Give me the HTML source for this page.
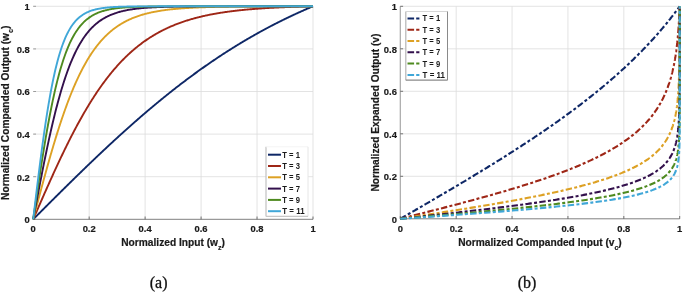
<!DOCTYPE html>
<html><head><meta charset="utf-8"><title>Companding curves</title>
<style>html,body{margin:0;padding:0;background:#fff;}body{width:685px;height:292px;overflow:hidden;}svg{display:block;}</style>
</head><body>
<svg width="685" height="292" viewBox="0 0 685 292">
<rect width="685" height="292" fill="#fff"/>
<line x1="89.16" y1="6.3" x2="89.16" y2="219.3" stroke="#dcdcdc" stroke-width="0.8"/>
<line x1="33.2" y1="176.7" x2="313" y2="176.7" stroke="#dcdcdc" stroke-width="0.8"/>
<line x1="145.12" y1="6.3" x2="145.12" y2="219.3" stroke="#dcdcdc" stroke-width="0.8"/>
<line x1="33.2" y1="134.1" x2="313" y2="134.1" stroke="#dcdcdc" stroke-width="0.8"/>
<line x1="201.08" y1="6.3" x2="201.08" y2="219.3" stroke="#dcdcdc" stroke-width="0.8"/>
<line x1="33.2" y1="91.5" x2="313" y2="91.5" stroke="#dcdcdc" stroke-width="0.8"/>
<line x1="257.04" y1="6.3" x2="257.04" y2="219.3" stroke="#dcdcdc" stroke-width="0.8"/>
<line x1="33.2" y1="48.9" x2="313" y2="48.9" stroke="#dcdcdc" stroke-width="0.8"/>
<line x1="313" y1="6.3" x2="313" y2="219.3" stroke="#dcdcdc" stroke-width="0.8"/>
<line x1="33.2" y1="6.3" x2="313" y2="6.3" stroke="#dcdcdc" stroke-width="0.8"/>
<line x1="33.2" y1="219.3" x2="313" y2="219.3" stroke="#808080" stroke-width="1"/>
<line x1="33.2" y1="219.3" x2="33.2" y2="216.5" stroke="#555" stroke-width="0.8"/>
<line x1="33.2" y1="219.3" x2="36" y2="219.3" stroke="#8a8a8a" stroke-width="0.8"/>
<line x1="89.16" y1="219.3" x2="89.16" y2="216.5" stroke="#555" stroke-width="0.8"/>
<line x1="33.2" y1="176.7" x2="36" y2="176.7" stroke="#8a8a8a" stroke-width="0.8"/>
<line x1="145.12" y1="219.3" x2="145.12" y2="216.5" stroke="#555" stroke-width="0.8"/>
<line x1="33.2" y1="134.1" x2="36" y2="134.1" stroke="#8a8a8a" stroke-width="0.8"/>
<line x1="201.08" y1="219.3" x2="201.08" y2="216.5" stroke="#555" stroke-width="0.8"/>
<line x1="33.2" y1="91.5" x2="36" y2="91.5" stroke="#8a8a8a" stroke-width="0.8"/>
<line x1="257.04" y1="219.3" x2="257.04" y2="216.5" stroke="#555" stroke-width="0.8"/>
<line x1="33.2" y1="48.9" x2="36" y2="48.9" stroke="#8a8a8a" stroke-width="0.8"/>
<line x1="313" y1="219.3" x2="313" y2="216.5" stroke="#555" stroke-width="0.8"/>
<line x1="33.2" y1="6.3" x2="36" y2="6.3" stroke="#8a8a8a" stroke-width="0.8"/>
<path d="M33.2 219.3 L33.9 218.6 L34.6 217.9 L35.3 217.2 L36 216.5 L36.7 215.8 L37.4 215.11 L38.1 214.41 L38.8 213.71 L39.5 213.01 L40.2 212.31 L40.89 211.61 L41.59 210.91 L42.29 210.21 L42.99 209.52 L43.69 208.82 L44.39 208.12 L45.09 207.42 L45.79 206.72 L46.49 206.03 L47.19 205.33 L47.89 204.63 L48.59 203.93 L49.29 203.24 L49.99 202.54 L50.69 201.84 L51.39 201.15 L52.09 200.45 L52.79 199.75 L53.49 199.06 L54.19 198.36 L54.88 197.67 L55.58 196.97 L56.28 196.28 L56.98 195.58 L57.68 194.89 L58.38 194.2 L59.08 193.5 L59.78 192.81 L60.48 192.12 L61.18 191.43 L61.88 190.73 L62.58 190.04 L63.28 189.35 L63.98 188.66 L64.68 187.97 L65.38 187.28 L66.08 186.59 L66.78 185.9 L67.48 185.21 L68.18 184.52 L68.87 183.83 L69.57 183.15 L70.27 182.46 L70.97 181.77 L71.67 181.09 L72.37 180.4 L73.07 179.71 L73.77 179.03 L74.47 178.34 L75.17 177.66 L75.87 176.98 L76.57 176.29 L77.27 175.61 L77.97 174.93 L78.67 174.25 L79.37 173.57 L80.07 172.89 L80.77 172.21 L81.47 171.53 L82.17 170.85 L82.86 170.17 L83.56 169.49 L84.26 168.82 L84.96 168.14 L85.66 167.47 L86.36 166.79 L87.06 166.12 L87.76 165.44 L88.46 164.77 L89.16 164.1 L89.86 163.43 L90.56 162.76 L91.26 162.09 L91.96 161.42 L92.66 160.75 L93.36 160.08 L94.06 159.41 L94.76 158.74 L95.46 158.08 L96.16 157.41 L96.85 156.75 L97.55 156.09 L98.25 155.42 L98.95 154.76 L99.65 154.1 L100.35 153.44 L101.05 152.78 L101.75 152.12 L102.45 151.46 L103.15 150.8 L103.85 150.15 L104.55 149.49 L105.25 148.83 L105.95 148.18 L106.65 147.53 L107.35 146.87 L108.05 146.22 L108.75 145.57 L109.45 144.92 L110.15 144.27 L110.84 143.62 L111.54 142.97 L112.24 142.33 L112.94 141.68 L113.64 141.04 L114.34 140.39 L115.04 139.75 L115.74 139.11 L116.44 138.47 L117.14 137.83 L117.84 137.19 L118.54 136.55 L119.24 135.91 L119.94 135.27 L120.64 134.64 L121.34 134 L122.04 133.37 L122.74 132.74 L123.44 132.11 L124.14 131.48 L124.83 130.85 L125.53 130.22 L126.23 129.59 L126.93 128.96 L127.63 128.34 L128.33 127.71 L129.03 127.09 L129.73 126.47 L130.43 125.84 L131.13 125.22 L131.83 124.6 L132.53 123.99 L133.23 123.37 L133.93 122.75 L134.63 122.14 L135.33 121.52 L136.03 120.91 L136.73 120.3 L137.43 119.69 L138.12 119.08 L138.82 118.47 L139.52 117.86 L140.22 117.25 L140.92 116.65 L141.62 116.04 L142.32 115.44 L143.02 114.84 L143.72 114.24 L144.42 113.64 L145.12 113.04 L145.82 112.44 L146.52 111.84 L147.22 111.25 L147.92 110.65 L148.62 110.06 L149.32 109.47 L150.02 108.88 L150.72 108.29 L151.42 107.7 L152.12 107.11 L152.81 106.53 L153.51 105.94 L154.21 105.36 L154.91 104.77 L155.61 104.19 L156.31 103.61 L157.01 103.03 L157.71 102.46 L158.41 101.88 L159.11 101.3 L159.81 100.73 L160.51 100.16 L161.21 99.59 L161.91 99.02 L162.61 98.45 L163.31 97.88 L164.01 97.31 L164.71 96.75 L165.41 96.18 L166.11 95.62 L166.8 95.06 L167.5 94.5 L168.2 93.94 L168.9 93.38 L169.6 92.82 L170.3 92.27 L171 91.71 L171.7 91.16 L172.4 90.61 L173.1 90.06 L173.8 89.51 L174.5 88.96 L175.2 88.41 L175.9 87.87 L176.6 87.32 L177.3 86.78 L178 86.24 L178.7 85.7 L179.4 85.16 L180.1 84.62 L180.79 84.09 L181.49 83.55 L182.19 83.02 L182.89 82.48 L183.59 81.95 L184.29 81.42 L184.99 80.89 L185.69 80.37 L186.39 79.84 L187.09 79.32 L187.79 78.79 L188.49 78.27 L189.19 77.75 L189.89 77.23 L190.59 76.71 L191.29 76.2 L191.99 75.68 L192.69 75.17 L193.39 74.65 L194.09 74.14 L194.78 73.63 L195.48 73.12 L196.18 72.62 L196.88 72.11 L197.58 71.6 L198.28 71.1 L198.98 70.6 L199.68 70.1 L200.38 69.6 L201.08 69.1 L201.78 68.6 L202.48 68.11 L203.18 67.61 L203.88 67.12 L204.58 66.63 L205.28 66.14 L205.98 65.65 L206.68 65.16 L207.38 64.68 L208.07 64.19 L208.77 63.71 L209.47 63.23 L210.17 62.75 L210.87 62.27 L211.57 61.79 L212.27 61.31 L212.97 60.84 L213.67 60.36 L214.37 59.89 L215.07 59.42 L215.77 58.95 L216.47 58.48 L217.17 58.01 L217.87 57.55 L218.57 57.08 L219.27 56.62 L219.97 56.16 L220.67 55.69 L221.37 55.24 L222.06 54.78 L222.76 54.32 L223.46 53.87 L224.16 53.41 L224.86 52.96 L225.56 52.51 L226.26 52.06 L226.96 51.61 L227.66 51.16 L228.36 50.72 L229.06 50.27 L229.76 49.83 L230.46 49.39 L231.16 48.95 L231.86 48.51 L232.56 48.07 L233.26 47.63 L233.96 47.2 L234.66 46.76 L235.36 46.33 L236.06 45.9 L236.75 45.47 L237.45 45.04 L238.15 44.62 L238.85 44.19 L239.55 43.77 L240.25 43.34 L240.95 42.92 L241.65 42.5 L242.35 42.08 L243.05 41.66 L243.75 41.25 L244.45 40.83 L245.15 40.42 L245.85 40.01 L246.55 39.59 L247.25 39.18 L247.95 38.78 L248.65 38.37 L249.35 37.96 L250.05 37.56 L250.74 37.16 L251.44 36.75 L252.14 36.35 L252.84 35.95 L253.54 35.56 L254.24 35.16 L254.94 34.76 L255.64 34.37 L256.34 33.98 L257.04 33.58 L257.74 33.19 L258.44 32.81 L259.14 32.42 L259.84 32.03 L260.54 31.65 L261.24 31.26 L261.94 30.88 L262.64 30.5 L263.34 30.12 L264.04 29.74 L264.73 29.36 L265.43 28.99 L266.13 28.61 L266.83 28.24 L267.53 27.87 L268.23 27.5 L268.93 27.13 L269.63 26.76 L270.33 26.39 L271.03 26.02 L271.73 25.66 L272.43 25.3 L273.13 24.93 L273.83 24.57 L274.53 24.21 L275.23 23.86 L275.93 23.5 L276.63 23.14 L277.33 22.79 L278.03 22.43 L278.72 22.08 L279.42 21.73 L280.12 21.38 L280.82 21.03 L281.52 20.69 L282.22 20.34 L282.92 20 L283.62 19.65 L284.32 19.31 L285.02 18.97 L285.72 18.63 L286.42 18.29 L287.12 17.95 L287.82 17.62 L288.52 17.28 L289.22 16.95 L289.92 16.61 L290.62 16.28 L291.32 15.95 L292.01 15.62 L292.71 15.3 L293.41 14.97 L294.11 14.64 L294.81 14.32 L295.51 14 L296.21 13.68 L296.91 13.35 L297.61 13.04 L298.31 12.72 L299.01 12.4 L299.71 12.08 L300.41 11.77 L301.11 11.46 L301.81 11.14 L302.51 10.83 L303.21 10.52 L303.91 10.21 L304.61 9.9 L305.31 9.6 L306 9.29 L306.7 8.99 L307.4 8.69 L308.1 8.38 L308.8 8.08 L309.5 7.78 L310.2 7.48 L310.9 7.19 L311.6 6.89 L312.3 6.59 L313 6.3" fill="none" stroke="#0e2766" stroke-width="1.9" stroke-linejoin="round"/>
<path d="M33.2 219.3 L33.9 217.69 L34.6 216.09 L35.3 214.48 L36 212.88 L36.7 211.28 L37.4 209.67 L38.1 208.07 L38.8 206.47 L39.5 204.87 L40.2 203.28 L40.89 201.68 L41.59 200.09 L42.29 198.5 L42.99 196.91 L43.69 195.32 L44.39 193.74 L45.09 192.15 L45.79 190.58 L46.49 189 L47.19 187.43 L47.89 185.86 L48.59 184.3 L49.29 182.74 L49.99 181.18 L50.69 179.63 L51.39 178.08 L52.09 176.54 L52.79 175 L53.49 173.46 L54.19 171.93 L54.88 170.41 L55.58 168.89 L56.28 167.38 L56.98 165.87 L57.68 164.37 L58.38 162.87 L59.08 161.38 L59.78 159.89 L60.48 158.41 L61.18 156.94 L61.88 155.48 L62.58 154.02 L63.28 152.56 L63.98 151.12 L64.68 149.68 L65.38 148.25 L66.08 146.82 L66.78 145.4 L67.48 143.99 L68.18 142.59 L68.87 141.2 L69.57 139.81 L70.27 138.43 L70.97 137.05 L71.67 135.69 L72.37 134.33 L73.07 132.99 L73.77 131.64 L74.47 130.31 L75.17 128.99 L75.87 127.67 L76.57 126.37 L77.27 125.07 L77.97 123.78 L78.67 122.5 L79.37 121.22 L80.07 119.96 L80.77 118.7 L81.47 117.46 L82.17 116.22 L82.86 114.99 L83.56 113.77 L84.26 112.56 L84.96 111.36 L85.66 110.17 L86.36 108.98 L87.06 107.81 L87.76 106.64 L88.46 105.49 L89.16 104.34 L89.86 103.2 L90.56 102.07 L91.26 100.95 L91.96 99.84 L92.66 98.74 L93.36 97.65 L94.06 96.57 L94.76 95.5 L95.46 94.43 L96.16 93.38 L96.85 92.33 L97.55 91.3 L98.25 90.27 L98.95 89.25 L99.65 88.24 L100.35 87.25 L101.05 86.26 L101.75 85.27 L102.45 84.3 L103.15 83.34 L103.85 82.39 L104.55 81.44 L105.25 80.51 L105.95 79.58 L106.65 78.67 L107.35 77.76 L108.05 76.86 L108.75 75.97 L109.45 75.09 L110.15 74.21 L110.84 73.35 L111.54 72.5 L112.24 71.65 L112.94 70.81 L113.64 69.98 L114.34 69.16 L115.04 68.35 L115.74 67.55 L116.44 66.76 L117.14 65.97 L117.84 65.19 L118.54 64.42 L119.24 63.66 L119.94 62.91 L120.64 62.17 L121.34 61.43 L122.04 60.7 L122.74 59.98 L123.44 59.27 L124.14 58.56 L124.83 57.87 L125.53 57.18 L126.23 56.5 L126.93 55.83 L127.63 55.16 L128.33 54.5 L129.03 53.85 L129.73 53.21 L130.43 52.58 L131.13 51.95 L131.83 51.33 L132.53 50.71 L133.23 50.11 L133.93 49.51 L134.63 48.92 L135.33 48.33 L136.03 47.75 L136.73 47.18 L137.43 46.62 L138.12 46.06 L138.82 45.51 L139.52 44.97 L140.22 44.43 L140.92 43.9 L141.62 43.38 L142.32 42.86 L143.02 42.35 L143.72 41.84 L144.42 41.34 L145.12 40.85 L145.82 40.36 L146.52 39.88 L147.22 39.41 L147.92 38.94 L148.62 38.48 L149.32 38.02 L150.02 37.57 L150.72 37.12 L151.42 36.68 L152.12 36.25 L152.81 35.82 L153.51 35.4 L154.21 34.98 L154.91 34.57 L155.61 34.16 L156.31 33.76 L157.01 33.36 L157.71 32.97 L158.41 32.58 L159.11 32.2 L159.81 31.82 L160.51 31.45 L161.21 31.09 L161.91 30.72 L162.61 30.37 L163.31 30.02 L164.01 29.67 L164.71 29.32 L165.41 28.99 L166.11 28.65 L166.8 28.32 L167.5 28 L168.2 27.68 L168.9 27.36 L169.6 27.05 L170.3 26.74 L171 26.43 L171.7 26.13 L172.4 25.84 L173.1 25.55 L173.8 25.26 L174.5 24.97 L175.2 24.69 L175.9 24.42 L176.6 24.14 L177.3 23.87 L178 23.61 L178.7 23.35 L179.4 23.09 L180.1 22.83 L180.79 22.58 L181.49 22.33 L182.19 22.09 L182.89 21.85 L183.59 21.61 L184.29 21.38 L184.99 21.14 L185.69 20.92 L186.39 20.69 L187.09 20.47 L187.79 20.25 L188.49 20.04 L189.19 19.82 L189.89 19.61 L190.59 19.41 L191.29 19.2 L191.99 19 L192.69 18.8 L193.39 18.61 L194.09 18.41 L194.78 18.22 L195.48 18.04 L196.18 17.85 L196.88 17.67 L197.58 17.49 L198.28 17.31 L198.98 17.14 L199.68 16.97 L200.38 16.8 L201.08 16.63 L201.78 16.46 L202.48 16.3 L203.18 16.14 L203.88 15.98 L204.58 15.83 L205.28 15.67 L205.98 15.52 L206.68 15.37 L207.38 15.22 L208.07 15.08 L208.77 14.94 L209.47 14.79 L210.17 14.66 L210.87 14.52 L211.57 14.38 L212.27 14.25 L212.97 14.12 L213.67 13.99 L214.37 13.86 L215.07 13.74 L215.77 13.61 L216.47 13.49 L217.17 13.37 L217.87 13.25 L218.57 13.13 L219.27 13.02 L219.97 12.9 L220.67 12.79 L221.37 12.68 L222.06 12.57 L222.76 12.47 L223.46 12.36 L224.16 12.26 L224.86 12.15 L225.56 12.05 L226.26 11.95 L226.96 11.85 L227.66 11.76 L228.36 11.66 L229.06 11.57 L229.76 11.47 L230.46 11.38 L231.16 11.29 L231.86 11.2 L232.56 11.12 L233.26 11.03 L233.96 10.94 L234.66 10.86 L235.36 10.78 L236.06 10.7 L236.75 10.62 L237.45 10.54 L238.15 10.46 L238.85 10.38 L239.55 10.31 L240.25 10.23 L240.95 10.16 L241.65 10.09 L242.35 10.02 L243.05 9.95 L243.75 9.88 L244.45 9.81 L245.15 9.74 L245.85 9.67 L246.55 9.61 L247.25 9.54 L247.95 9.48 L248.65 9.42 L249.35 9.36 L250.05 9.3 L250.74 9.24 L251.44 9.18 L252.14 9.12 L252.84 9.06 L253.54 9.01 L254.24 8.95 L254.94 8.9 L255.64 8.84 L256.34 8.79 L257.04 8.74 L257.74 8.68 L258.44 8.63 L259.14 8.58 L259.84 8.53 L260.54 8.49 L261.24 8.44 L261.94 8.39 L262.64 8.34 L263.34 8.3 L264.04 8.25 L264.73 8.21 L265.43 8.16 L266.13 8.12 L266.83 8.08 L267.53 8.04 L268.23 8 L268.93 7.95 L269.63 7.91 L270.33 7.87 L271.03 7.84 L271.73 7.8 L272.43 7.76 L273.13 7.72 L273.83 7.69 L274.53 7.65 L275.23 7.61 L275.93 7.58 L276.63 7.54 L277.33 7.51 L278.03 7.48 L278.72 7.44 L279.42 7.41 L280.12 7.38 L280.82 7.35 L281.52 7.32 L282.22 7.28 L282.92 7.25 L283.62 7.22 L284.32 7.2 L285.02 7.17 L285.72 7.14 L286.42 7.11 L287.12 7.08 L287.82 7.05 L288.52 7.03 L289.22 7 L289.92 6.98 L290.62 6.95 L291.32 6.92 L292.01 6.9 L292.71 6.87 L293.41 6.85 L294.11 6.83 L294.81 6.8 L295.51 6.78 L296.21 6.76 L296.91 6.73 L297.61 6.71 L298.31 6.69 L299.01 6.67 L299.71 6.65 L300.41 6.63 L301.11 6.61 L301.81 6.59 L302.51 6.57 L303.21 6.55 L303.91 6.53 L304.61 6.51 L305.31 6.49 L306 6.47 L306.7 6.45 L307.4 6.43 L308.1 6.42 L308.8 6.4 L309.5 6.38 L310.2 6.37 L310.9 6.35 L311.6 6.33 L312.3 6.32 L313 6.3" fill="none" stroke="#9e2616" stroke-width="1.9" stroke-linejoin="round"/>
<path d="M33.2 219.3 L33.9 216.64 L34.6 213.98 L35.3 211.32 L36 208.66 L36.7 206 L37.4 203.35 L38.1 200.71 L38.8 198.07 L39.5 195.44 L40.2 192.81 L40.89 190.19 L41.59 187.58 L42.29 184.99 L42.99 182.4 L43.69 179.82 L44.39 177.26 L45.09 174.7 L45.79 172.16 L46.49 169.64 L47.19 167.13 L47.89 164.63 L48.59 162.15 L49.29 159.69 L49.99 157.24 L50.69 154.82 L51.39 152.41 L52.09 150.02 L52.79 147.65 L53.49 145.29 L54.19 142.96 L54.88 140.65 L55.58 138.36 L56.28 136.1 L56.98 133.85 L57.68 131.63 L58.38 129.43 L59.08 127.25 L59.78 125.1 L60.48 122.97 L61.18 120.86 L61.88 118.78 L62.58 116.72 L63.28 114.69 L63.98 112.68 L64.68 110.7 L65.38 108.74 L66.08 106.81 L66.78 104.9 L67.48 103.02 L68.18 101.16 L68.87 99.33 L69.57 97.52 L70.27 95.74 L70.97 93.99 L71.67 92.26 L72.37 90.56 L73.07 88.88 L73.77 87.23 L74.47 85.6 L75.17 84 L75.87 82.43 L76.57 80.87 L77.27 79.35 L77.97 77.85 L78.67 76.37 L79.37 74.92 L80.07 73.49 L80.77 72.09 L81.47 70.71 L82.17 69.35 L82.86 68.02 L83.56 66.71 L84.26 65.43 L84.96 64.17 L85.66 62.93 L86.36 61.71 L87.06 60.52 L87.76 59.35 L88.46 58.19 L89.16 57.07 L89.86 55.96 L90.56 54.87 L91.26 53.81 L91.96 52.76 L92.66 51.73 L93.36 50.73 L94.06 49.74 L94.76 48.78 L95.46 47.83 L96.16 46.9 L96.85 45.99 L97.55 45.1 L98.25 44.23 L98.95 43.37 L99.65 42.54 L100.35 41.72 L101.05 40.91 L101.75 40.12 L102.45 39.35 L103.15 38.6 L103.85 37.86 L104.55 37.14 L105.25 36.43 L105.95 35.74 L106.65 35.06 L107.35 34.39 L108.05 33.75 L108.75 33.11 L109.45 32.49 L110.15 31.88 L110.84 31.28 L111.54 30.7 L112.24 30.13 L112.94 29.58 L113.64 29.03 L114.34 28.5 L115.04 27.98 L115.74 27.47 L116.44 26.97 L117.14 26.49 L117.84 26.01 L118.54 25.55 L119.24 25.09 L119.94 24.65 L120.64 24.21 L121.34 23.79 L122.04 23.37 L122.74 22.97 L123.44 22.57 L124.14 22.18 L124.83 21.81 L125.53 21.44 L126.23 21.07 L126.93 20.72 L127.63 20.38 L128.33 20.04 L129.03 19.71 L129.73 19.39 L130.43 19.08 L131.13 18.77 L131.83 18.47 L132.53 18.18 L133.23 17.89 L133.93 17.61 L134.63 17.34 L135.33 17.07 L136.03 16.81 L136.73 16.56 L137.43 16.31 L138.12 16.07 L138.82 15.83 L139.52 15.6 L140.22 15.38 L140.92 15.16 L141.62 14.94 L142.32 14.73 L143.02 14.53 L143.72 14.33 L144.42 14.13 L145.12 13.94 L145.82 13.76 L146.52 13.58 L147.22 13.4 L147.92 13.23 L148.62 13.06 L149.32 12.89 L150.02 12.73 L150.72 12.57 L151.42 12.42 L152.12 12.27 L152.81 12.13 L153.51 11.98 L154.21 11.85 L154.91 11.71 L155.61 11.58 L156.31 11.45 L157.01 11.32 L157.71 11.2 L158.41 11.08 L159.11 10.96 L159.81 10.85 L160.51 10.74 L161.21 10.63 L161.91 10.52 L162.61 10.42 L163.31 10.32 L164.01 10.22 L164.71 10.12 L165.41 10.03 L166.11 9.93 L166.8 9.85 L167.5 9.76 L168.2 9.67 L168.9 9.59 L169.6 9.51 L170.3 9.43 L171 9.35 L171.7 9.28 L172.4 9.2 L173.1 9.13 L173.8 9.06 L174.5 8.99 L175.2 8.93 L175.9 8.86 L176.6 8.8 L177.3 8.74 L178 8.68 L178.7 8.62 L179.4 8.56 L180.1 8.5 L180.79 8.45 L181.49 8.4 L182.19 8.34 L182.89 8.29 L183.59 8.24 L184.29 8.2 L184.99 8.15 L185.69 8.1 L186.39 8.06 L187.09 8.01 L187.79 7.97 L188.49 7.93 L189.19 7.89 L189.89 7.85 L190.59 7.81 L191.29 7.77 L191.99 7.74 L192.69 7.7 L193.39 7.67 L194.09 7.63 L194.78 7.6 L195.48 7.57 L196.18 7.53 L196.88 7.5 L197.58 7.47 L198.28 7.44 L198.98 7.42 L199.68 7.39 L200.38 7.36 L201.08 7.33 L201.78 7.31 L202.48 7.28 L203.18 7.26 L203.88 7.23 L204.58 7.21 L205.28 7.19 L205.98 7.17 L206.68 7.14 L207.38 7.12 L208.07 7.1 L208.77 7.08 L209.47 7.06 L210.17 7.04 L210.87 7.02 L211.57 7.01 L212.27 6.99 L212.97 6.97 L213.67 6.95 L214.37 6.94 L215.07 6.92 L215.77 6.9 L216.47 6.89 L217.17 6.87 L217.87 6.86 L218.57 6.85 L219.27 6.83 L219.97 6.82 L220.67 6.8 L221.37 6.79 L222.06 6.78 L222.76 6.77 L223.46 6.75 L224.16 6.74 L224.86 6.73 L225.56 6.72 L226.26 6.71 L226.96 6.7 L227.66 6.69 L228.36 6.68 L229.06 6.67 L229.76 6.66 L230.46 6.65 L231.16 6.64 L231.86 6.63 L232.56 6.62 L233.26 6.61 L233.96 6.61 L234.66 6.6 L235.36 6.59 L236.06 6.58 L236.75 6.58 L237.45 6.57 L238.15 6.56 L238.85 6.55 L239.55 6.55 L240.25 6.54 L240.95 6.53 L241.65 6.53 L242.35 6.52 L243.05 6.52 L243.75 6.51 L244.45 6.5 L245.15 6.5 L245.85 6.49 L246.55 6.49 L247.25 6.48 L247.95 6.48 L248.65 6.47 L249.35 6.47 L250.05 6.46 L250.74 6.46 L251.44 6.46 L252.14 6.45 L252.84 6.45 L253.54 6.44 L254.24 6.44 L254.94 6.43 L255.64 6.43 L256.34 6.43 L257.04 6.42 L257.74 6.42 L258.44 6.42 L259.14 6.41 L259.84 6.41 L260.54 6.41 L261.24 6.4 L261.94 6.4 L262.64 6.4 L263.34 6.39 L264.04 6.39 L264.73 6.39 L265.43 6.39 L266.13 6.38 L266.83 6.38 L267.53 6.38 L268.23 6.38 L268.93 6.37 L269.63 6.37 L270.33 6.37 L271.03 6.37 L271.73 6.37 L272.43 6.36 L273.13 6.36 L273.83 6.36 L274.53 6.36 L275.23 6.36 L275.93 6.35 L276.63 6.35 L277.33 6.35 L278.03 6.35 L278.72 6.35 L279.42 6.34 L280.12 6.34 L280.82 6.34 L281.52 6.34 L282.22 6.34 L282.92 6.34 L283.62 6.34 L284.32 6.33 L285.02 6.33 L285.72 6.33 L286.42 6.33 L287.12 6.33 L287.82 6.33 L288.52 6.33 L289.22 6.33 L289.92 6.32 L290.62 6.32 L291.32 6.32 L292.01 6.32 L292.71 6.32 L293.41 6.32 L294.11 6.32 L294.81 6.32 L295.51 6.32 L296.21 6.32 L296.91 6.32 L297.61 6.31 L298.31 6.31 L299.01 6.31 L299.71 6.31 L300.41 6.31 L301.11 6.31 L301.81 6.31 L302.51 6.31 L303.21 6.31 L303.91 6.31 L304.61 6.31 L305.31 6.31 L306 6.31 L306.7 6.3 L307.4 6.3 L308.1 6.3 L308.8 6.3 L309.5 6.3 L310.2 6.3 L310.9 6.3 L311.6 6.3 L312.3 6.3 L313 6.3" fill="none" stroke="#dda124" stroke-width="1.9" stroke-linejoin="round"/>
<path d="M33.2 219.3 L33.9 215.57 L34.6 211.85 L35.3 208.13 L36 204.41 L36.7 200.71 L37.4 197.02 L38.1 193.34 L38.8 189.67 L39.5 186.03 L40.2 182.4 L40.89 178.8 L41.59 175.22 L42.29 171.66 L42.99 168.13 L43.69 164.64 L44.39 161.17 L45.09 157.74 L45.79 154.34 L46.49 150.98 L47.19 147.65 L47.89 144.37 L48.59 141.12 L49.29 137.92 L49.99 134.75 L50.69 131.64 L51.39 128.56 L52.09 125.53 L52.79 122.55 L53.49 119.62 L54.19 116.73 L54.88 113.89 L55.58 111.1 L56.28 108.36 L56.98 105.67 L57.68 103.03 L58.38 100.43 L59.08 97.89 L59.78 95.4 L60.48 92.96 L61.18 90.57 L61.88 88.23 L62.58 85.94 L63.28 83.7 L63.98 81.5 L64.68 79.36 L65.38 77.27 L66.08 75.22 L66.78 73.22 L67.48 71.27 L68.18 69.37 L68.87 67.51 L69.57 65.7 L70.27 63.93 L70.97 62.21 L71.67 60.53 L72.37 58.9 L73.07 57.3 L73.77 55.75 L74.47 54.24 L75.17 52.77 L75.87 51.35 L76.57 49.95 L77.27 48.6 L77.97 47.29 L78.67 46.01 L79.37 44.77 L80.07 43.56 L80.77 42.39 L81.47 41.25 L82.17 40.14 L82.86 39.07 L83.56 38.02 L84.26 37.01 L84.96 36.03 L85.66 35.07 L86.36 34.15 L87.06 33.25 L87.76 32.38 L88.46 31.54 L89.16 30.72 L89.86 29.93 L90.56 29.16 L91.26 28.41 L91.96 27.69 L92.66 26.99 L93.36 26.31 L94.06 25.65 L94.76 25.02 L95.46 24.4 L96.16 23.8 L96.85 23.23 L97.55 22.67 L98.25 22.12 L98.95 21.6 L99.65 21.09 L100.35 20.6 L101.05 20.12 L101.75 19.66 L102.45 19.22 L103.15 18.79 L103.85 18.37 L104.55 17.97 L105.25 17.57 L105.95 17.2 L106.65 16.83 L107.35 16.48 L108.05 16.14 L108.75 15.81 L109.45 15.49 L110.15 15.18 L110.84 14.88 L111.54 14.59 L112.24 14.31 L112.94 14.04 L113.64 13.78 L114.34 13.52 L115.04 13.28 L115.74 13.04 L116.44 12.81 L117.14 12.59 L117.84 12.38 L118.54 12.17 L119.24 11.97 L119.94 11.78 L120.64 11.6 L121.34 11.42 L122.04 11.24 L122.74 11.07 L123.44 10.91 L124.14 10.75 L124.83 10.6 L125.53 10.46 L126.23 10.31 L126.93 10.18 L127.63 10.05 L128.33 9.92 L129.03 9.79 L129.73 9.67 L130.43 9.56 L131.13 9.45 L131.83 9.34 L132.53 9.24 L133.23 9.14 L133.93 9.04 L134.63 8.95 L135.33 8.86 L136.03 8.77 L136.73 8.68 L137.43 8.6 L138.12 8.52 L138.82 8.45 L139.52 8.37 L140.22 8.3 L140.92 8.23 L141.62 8.17 L142.32 8.1 L143.02 8.04 L143.72 7.98 L144.42 7.92 L145.12 7.87 L145.82 7.82 L146.52 7.76 L147.22 7.71 L147.92 7.66 L148.62 7.62 L149.32 7.57 L150.02 7.53 L150.72 7.49 L151.42 7.45 L152.12 7.41 L152.81 7.37 L153.51 7.33 L154.21 7.3 L154.91 7.26 L155.61 7.23 L156.31 7.2 L157.01 7.17 L157.71 7.14 L158.41 7.11 L159.11 7.08 L159.81 7.05 L160.51 7.03 L161.21 7 L161.91 6.98 L162.61 6.96 L163.31 6.93 L164.01 6.91 L164.71 6.89 L165.41 6.87 L166.11 6.85 L166.8 6.83 L167.5 6.81 L168.2 6.8 L168.9 6.78 L169.6 6.76 L170.3 6.75 L171 6.73 L171.7 6.72 L172.4 6.7 L173.1 6.69 L173.8 6.67 L174.5 6.66 L175.2 6.65 L175.9 6.64 L176.6 6.63 L177.3 6.61 L178 6.6 L178.7 6.59 L179.4 6.58 L180.1 6.57 L180.79 6.56 L181.49 6.55 L182.19 6.55 L182.89 6.54 L183.59 6.53 L184.29 6.52 L184.99 6.51 L185.69 6.51 L186.39 6.5 L187.09 6.49 L187.79 6.49 L188.49 6.48 L189.19 6.47 L189.89 6.47 L190.59 6.46 L191.29 6.46 L191.99 6.45 L192.69 6.45 L193.39 6.44 L194.09 6.44 L194.78 6.43 L195.48 6.43 L196.18 6.42 L196.88 6.42 L197.58 6.41 L198.28 6.41 L198.98 6.41 L199.68 6.4 L200.38 6.4 L201.08 6.4 L201.78 6.39 L202.48 6.39 L203.18 6.39 L203.88 6.38 L204.58 6.38 L205.28 6.38 L205.98 6.37 L206.68 6.37 L207.38 6.37 L208.07 6.37 L208.77 6.36 L209.47 6.36 L210.17 6.36 L210.87 6.36 L211.57 6.36 L212.27 6.35 L212.97 6.35 L213.67 6.35 L214.37 6.35 L215.07 6.35 L215.77 6.35 L216.47 6.34 L217.17 6.34 L217.87 6.34 L218.57 6.34 L219.27 6.34 L219.97 6.34 L220.67 6.34 L221.37 6.33 L222.06 6.33 L222.76 6.33 L223.46 6.33 L224.16 6.33 L224.86 6.33 L225.56 6.33 L226.26 6.33 L226.96 6.33 L227.66 6.32 L228.36 6.32 L229.06 6.32 L229.76 6.32 L230.46 6.32 L231.16 6.32 L231.86 6.32 L232.56 6.32 L233.26 6.32 L233.96 6.32 L234.66 6.32 L235.36 6.32 L236.06 6.32 L236.75 6.32 L237.45 6.32 L238.15 6.31 L238.85 6.31 L239.55 6.31 L240.25 6.31 L240.95 6.31 L241.65 6.31 L242.35 6.31 L243.05 6.31 L243.75 6.31 L244.45 6.31 L245.15 6.31 L245.85 6.31 L246.55 6.31 L247.25 6.31 L247.95 6.31 L248.65 6.31 L249.35 6.31 L250.05 6.31 L250.74 6.31 L251.44 6.31 L252.14 6.31 L252.84 6.31 L253.54 6.31 L254.24 6.31 L254.94 6.31 L255.64 6.31 L256.34 6.31 L257.04 6.31 L257.74 6.31 L258.44 6.31 L259.14 6.3 L259.84 6.3 L260.54 6.3 L261.24 6.3 L261.94 6.3 L262.64 6.3 L263.34 6.3 L264.04 6.3 L264.73 6.3 L265.43 6.3 L266.13 6.3 L266.83 6.3 L267.53 6.3 L268.23 6.3 L268.93 6.3 L269.63 6.3 L270.33 6.3 L271.03 6.3 L271.73 6.3 L272.43 6.3 L273.13 6.3 L273.83 6.3 L274.53 6.3 L275.23 6.3 L275.93 6.3 L276.63 6.3 L277.33 6.3 L278.03 6.3 L278.72 6.3 L279.42 6.3 L280.12 6.3 L280.82 6.3 L281.52 6.3 L282.22 6.3 L282.92 6.3 L283.62 6.3 L284.32 6.3 L285.02 6.3 L285.72 6.3 L286.42 6.3 L287.12 6.3 L287.82 6.3 L288.52 6.3 L289.22 6.3 L289.92 6.3 L290.62 6.3 L291.32 6.3 L292.01 6.3 L292.71 6.3 L293.41 6.3 L294.11 6.3 L294.81 6.3 L295.51 6.3 L296.21 6.3 L296.91 6.3 L297.61 6.3 L298.31 6.3 L299.01 6.3 L299.71 6.3 L300.41 6.3 L301.11 6.3 L301.81 6.3 L302.51 6.3 L303.21 6.3 L303.91 6.3 L304.61 6.3 L305.31 6.3 L306 6.3 L306.7 6.3 L307.4 6.3 L308.1 6.3 L308.8 6.3 L309.5 6.3 L310.2 6.3 L310.9 6.3 L311.6 6.3 L312.3 6.3 L313 6.3" fill="none" stroke="#33104c" stroke-width="1.9" stroke-linejoin="round"/>
<path d="M33.2 219.3 L33.9 214.51 L34.6 209.72 L35.3 204.94 L36 200.18 L36.7 195.44 L37.4 190.72 L38.1 186.03 L38.8 181.37 L39.5 176.75 L40.2 172.17 L40.89 167.63 L41.59 163.15 L42.29 158.72 L42.99 154.34 L43.69 150.02 L44.39 145.77 L45.09 141.58 L45.79 137.46 L46.49 133.41 L47.19 129.44 L47.89 125.53 L48.59 121.71 L49.29 117.96 L49.99 114.29 L50.69 110.71 L51.39 107.2 L52.09 103.78 L52.79 100.43 L53.49 97.18 L54.19 94 L54.88 90.91 L55.58 87.9 L56.28 84.97 L56.98 82.13 L57.68 79.36 L58.38 76.68 L59.08 74.07 L59.78 71.55 L60.48 69.1 L61.18 66.73 L61.88 64.43 L62.58 62.21 L63.28 60.06 L63.98 57.98 L64.68 55.97 L65.38 54.03 L66.08 52.16 L66.78 50.35 L67.48 48.6 L68.18 46.92 L68.87 45.3 L69.57 43.73 L70.27 42.22 L70.97 40.77 L71.67 39.37 L72.37 38.02 L73.07 36.73 L73.77 35.48 L74.47 34.28 L75.17 33.13 L75.87 32.02 L76.57 30.95 L77.27 29.93 L77.97 28.94 L78.67 28 L79.37 27.09 L80.07 26.22 L80.77 25.38 L81.47 24.58 L82.17 23.8 L82.86 23.06 L83.56 22.36 L84.26 21.67 L84.96 21.02 L85.66 20.39 L86.36 19.79 L87.06 19.22 L87.76 18.67 L88.46 18.14 L89.16 17.63 L89.86 17.14 L90.56 16.68 L91.26 16.23 L91.96 15.81 L92.66 15.4 L93.36 15 L94.06 14.63 L94.76 14.27 L95.46 13.92 L96.16 13.59 L96.85 13.28 L97.55 12.98 L98.25 12.69 L98.95 12.41 L99.65 12.15 L100.35 11.89 L101.05 11.65 L101.75 11.42 L102.45 11.19 L103.15 10.98 L103.85 10.78 L104.55 10.58 L105.25 10.4 L105.95 10.22 L106.65 10.05 L107.35 9.88 L108.05 9.73 L108.75 9.58 L109.45 9.43 L110.15 9.3 L110.84 9.17 L111.54 9.04 L112.24 8.92 L112.94 8.81 L113.64 8.7 L114.34 8.59 L115.04 8.49 L115.74 8.39 L116.44 8.3 L117.14 8.22 L117.84 8.13 L118.54 8.05 L119.24 7.97 L119.94 7.9 L120.64 7.83 L121.34 7.76 L122.04 7.7 L122.74 7.64 L123.44 7.58 L124.14 7.52 L124.83 7.47 L125.53 7.42 L126.23 7.37 L126.93 7.32 L127.63 7.28 L128.33 7.23 L129.03 7.19 L129.73 7.15 L130.43 7.12 L131.13 7.08 L131.83 7.05 L132.53 7.01 L133.23 6.98 L133.93 6.95 L134.63 6.92 L135.33 6.9 L136.03 6.87 L136.73 6.85 L137.43 6.82 L138.12 6.8 L138.82 6.78 L139.52 6.76 L140.22 6.74 L140.92 6.72 L141.62 6.7 L142.32 6.68 L143.02 6.66 L143.72 6.65 L144.42 6.63 L145.12 6.62 L145.82 6.6 L146.52 6.59 L147.22 6.58 L147.92 6.57 L148.62 6.55 L149.32 6.54 L150.02 6.53 L150.72 6.52 L151.42 6.51 L152.12 6.5 L152.81 6.49 L153.51 6.49 L154.21 6.48 L154.91 6.47 L155.61 6.46 L156.31 6.45 L157.01 6.45 L157.71 6.44 L158.41 6.44 L159.11 6.43 L159.81 6.42 L160.51 6.42 L161.21 6.41 L161.91 6.41 L162.61 6.4 L163.31 6.4 L164.01 6.39 L164.71 6.39 L165.41 6.39 L166.11 6.38 L166.8 6.38 L167.5 6.38 L168.2 6.37 L168.9 6.37 L169.6 6.37 L170.3 6.36 L171 6.36 L171.7 6.36 L172.4 6.35 L173.1 6.35 L173.8 6.35 L174.5 6.35 L175.2 6.35 L175.9 6.34 L176.6 6.34 L177.3 6.34 L178 6.34 L178.7 6.34 L179.4 6.34 L180.1 6.33 L180.79 6.33 L181.49 6.33 L182.19 6.33 L182.89 6.33 L183.59 6.33 L184.29 6.33 L184.99 6.32 L185.69 6.32 L186.39 6.32 L187.09 6.32 L187.79 6.32 L188.49 6.32 L189.19 6.32 L189.89 6.32 L190.59 6.32 L191.29 6.32 L191.99 6.32 L192.69 6.31 L193.39 6.31 L194.09 6.31 L194.78 6.31 L195.48 6.31 L196.18 6.31 L196.88 6.31 L197.58 6.31 L198.28 6.31 L198.98 6.31 L199.68 6.31 L200.38 6.31 L201.08 6.31 L201.78 6.31 L202.48 6.31 L203.18 6.31 L203.88 6.31 L204.58 6.31 L205.28 6.31 L205.98 6.31 L206.68 6.31 L207.38 6.31 L208.07 6.31 L208.77 6.31 L209.47 6.31 L210.17 6.3 L210.87 6.3 L211.57 6.3 L212.27 6.3 L212.97 6.3 L213.67 6.3 L214.37 6.3 L215.07 6.3 L215.77 6.3 L216.47 6.3 L217.17 6.3 L217.87 6.3 L218.57 6.3 L219.27 6.3 L219.97 6.3 L220.67 6.3 L221.37 6.3 L222.06 6.3 L222.76 6.3 L223.46 6.3 L224.16 6.3 L224.86 6.3 L225.56 6.3 L226.26 6.3 L226.96 6.3 L227.66 6.3 L228.36 6.3 L229.06 6.3 L229.76 6.3 L230.46 6.3 L231.16 6.3 L231.86 6.3 L232.56 6.3 L233.26 6.3 L233.96 6.3 L234.66 6.3 L235.36 6.3 L236.06 6.3 L236.75 6.3 L237.45 6.3 L238.15 6.3 L238.85 6.3 L239.55 6.3 L240.25 6.3 L240.95 6.3 L241.65 6.3 L242.35 6.3 L243.05 6.3 L243.75 6.3 L244.45 6.3 L245.15 6.3 L245.85 6.3 L246.55 6.3 L247.25 6.3 L247.95 6.3 L248.65 6.3 L249.35 6.3 L250.05 6.3 L250.74 6.3 L251.44 6.3 L252.14 6.3 L252.84 6.3 L253.54 6.3 L254.24 6.3 L254.94 6.3 L255.64 6.3 L256.34 6.3 L257.04 6.3 L257.74 6.3 L258.44 6.3 L259.14 6.3 L259.84 6.3 L260.54 6.3 L261.24 6.3 L261.94 6.3 L262.64 6.3 L263.34 6.3 L264.04 6.3 L264.73 6.3 L265.43 6.3 L266.13 6.3 L266.83 6.3 L267.53 6.3 L268.23 6.3 L268.93 6.3 L269.63 6.3 L270.33 6.3 L271.03 6.3 L271.73 6.3 L272.43 6.3 L273.13 6.3 L273.83 6.3 L274.53 6.3 L275.23 6.3 L275.93 6.3 L276.63 6.3 L277.33 6.3 L278.03 6.3 L278.72 6.3 L279.42 6.3 L280.12 6.3 L280.82 6.3 L281.52 6.3 L282.22 6.3 L282.92 6.3 L283.62 6.3 L284.32 6.3 L285.02 6.3 L285.72 6.3 L286.42 6.3 L287.12 6.3 L287.82 6.3 L288.52 6.3 L289.22 6.3 L289.92 6.3 L290.62 6.3 L291.32 6.3 L292.01 6.3 L292.71 6.3 L293.41 6.3 L294.11 6.3 L294.81 6.3 L295.51 6.3 L296.21 6.3 L296.91 6.3 L297.61 6.3 L298.31 6.3 L299.01 6.3 L299.71 6.3 L300.41 6.3 L301.11 6.3 L301.81 6.3 L302.51 6.3 L303.21 6.3 L303.91 6.3 L304.61 6.3 L305.31 6.3 L306 6.3 L306.7 6.3 L307.4 6.3 L308.1 6.3 L308.8 6.3 L309.5 6.3 L310.2 6.3 L310.9 6.3 L311.6 6.3 L312.3 6.3 L313 6.3" fill="none" stroke="#4e8a1f" stroke-width="1.9" stroke-linejoin="round"/>
<path d="M33.2 219.3 L33.9 213.44 L34.6 207.6 L35.3 201.77 L36 195.96 L36.7 190.2 L37.4 184.47 L38.1 178.8 L38.8 173.18 L39.5 167.63 L40.2 162.16 L40.89 156.76 L41.59 151.46 L42.29 146.24 L42.99 141.12 L43.69 136.1 L44.39 131.19 L45.09 126.39 L45.79 121.71 L46.49 117.14 L47.19 112.69 L47.89 108.36 L48.59 104.15 L49.29 100.07 L49.99 96.11 L50.69 92.27 L51.39 88.56 L52.09 84.97 L52.79 81.5 L53.49 78.16 L54.19 74.93 L54.88 71.82 L55.58 68.83 L56.28 65.95 L56.98 63.19 L57.68 60.53 L58.38 57.98 L59.08 55.54 L59.78 53.19 L60.48 50.94 L61.18 48.79 L61.88 46.74 L62.58 44.77 L63.28 42.89 L63.98 41.09 L64.68 39.37 L65.38 37.73 L66.08 36.17 L66.78 34.68 L67.48 33.25 L68.18 31.9 L68.87 30.61 L69.57 29.38 L70.27 28.2 L70.97 27.09 L71.67 26.03 L72.37 25.02 L73.07 24.06 L73.77 23.15 L74.47 22.28 L75.17 21.45 L75.87 20.67 L76.57 19.93 L77.27 19.22 L77.97 18.55 L78.67 17.91 L79.37 17.3 L80.07 16.73 L80.77 16.18 L81.47 15.67 L82.17 15.18 L82.86 14.71 L83.56 14.27 L84.26 13.85 L84.96 13.45 L85.66 13.08 L86.36 12.72 L87.06 12.38 L87.76 12.06 L88.46 11.76 L89.16 11.47 L89.86 11.19 L90.56 10.93 L91.26 10.69 L91.96 10.46 L92.66 10.24 L93.36 10.03 L94.06 9.83 L94.76 9.64 L95.46 9.46 L96.16 9.3 L96.85 9.14 L97.55 8.99 L98.25 8.84 L98.95 8.71 L99.65 8.58 L100.35 8.46 L101.05 8.34 L101.75 8.23 L102.45 8.13 L103.15 8.03 L103.85 7.94 L104.55 7.85 L105.25 7.77 L105.95 7.69 L106.65 7.62 L107.35 7.55 L108.05 7.48 L108.75 7.42 L109.45 7.36 L110.15 7.3 L110.84 7.25 L111.54 7.2 L112.24 7.15 L112.94 7.1 L113.64 7.06 L114.34 7.02 L115.04 6.98 L115.74 6.95 L116.44 6.91 L117.14 6.88 L117.84 6.85 L118.54 6.82 L119.24 6.79 L119.94 6.76 L120.64 6.74 L121.34 6.72 L122.04 6.69 L122.74 6.67 L123.44 6.65 L124.14 6.63 L124.83 6.62 L125.53 6.6 L126.23 6.58 L126.93 6.57 L127.63 6.55 L128.33 6.54 L129.03 6.53 L129.73 6.52 L130.43 6.5 L131.13 6.49 L131.83 6.48 L132.53 6.47 L133.23 6.46 L133.93 6.45 L134.63 6.45 L135.33 6.44 L136.03 6.43 L136.73 6.42 L137.43 6.42 L138.12 6.41 L138.82 6.41 L139.52 6.4 L140.22 6.39 L140.92 6.39 L141.62 6.38 L142.32 6.38 L143.02 6.38 L143.72 6.37 L144.42 6.37 L145.12 6.36 L145.82 6.36 L146.52 6.36 L147.22 6.35 L147.92 6.35 L148.62 6.35 L149.32 6.35 L150.02 6.34 L150.72 6.34 L151.42 6.34 L152.12 6.34 L152.81 6.34 L153.51 6.33 L154.21 6.33 L154.91 6.33 L155.61 6.33 L156.31 6.33 L157.01 6.33 L157.71 6.32 L158.41 6.32 L159.11 6.32 L159.81 6.32 L160.51 6.32 L161.21 6.32 L161.91 6.32 L162.61 6.32 L163.31 6.32 L164.01 6.31 L164.71 6.31 L165.41 6.31 L166.11 6.31 L166.8 6.31 L167.5 6.31 L168.2 6.31 L168.9 6.31 L169.6 6.31 L170.3 6.31 L171 6.31 L171.7 6.31 L172.4 6.31 L173.1 6.31 L173.8 6.31 L174.5 6.31 L175.2 6.31 L175.9 6.31 L176.6 6.31 L177.3 6.31 L178 6.3 L178.7 6.3 L179.4 6.3 L180.1 6.3 L180.79 6.3 L181.49 6.3 L182.19 6.3 L182.89 6.3 L183.59 6.3 L184.29 6.3 L184.99 6.3 L185.69 6.3 L186.39 6.3 L187.09 6.3 L187.79 6.3 L188.49 6.3 L189.19 6.3 L189.89 6.3 L190.59 6.3 L191.29 6.3 L191.99 6.3 L192.69 6.3 L193.39 6.3 L194.09 6.3 L194.78 6.3 L195.48 6.3 L196.18 6.3 L196.88 6.3 L197.58 6.3 L198.28 6.3 L198.98 6.3 L199.68 6.3 L200.38 6.3 L201.08 6.3 L201.78 6.3 L202.48 6.3 L203.18 6.3 L203.88 6.3 L204.58 6.3 L205.28 6.3 L205.98 6.3 L206.68 6.3 L207.38 6.3 L208.07 6.3 L208.77 6.3 L209.47 6.3 L210.17 6.3 L210.87 6.3 L211.57 6.3 L212.27 6.3 L212.97 6.3 L213.67 6.3 L214.37 6.3 L215.07 6.3 L215.77 6.3 L216.47 6.3 L217.17 6.3 L217.87 6.3 L218.57 6.3 L219.27 6.3 L219.97 6.3 L220.67 6.3 L221.37 6.3 L222.06 6.3 L222.76 6.3 L223.46 6.3 L224.16 6.3 L224.86 6.3 L225.56 6.3 L226.26 6.3 L226.96 6.3 L227.66 6.3 L228.36 6.3 L229.06 6.3 L229.76 6.3 L230.46 6.3 L231.16 6.3 L231.86 6.3 L232.56 6.3 L233.26 6.3 L233.96 6.3 L234.66 6.3 L235.36 6.3 L236.06 6.3 L236.75 6.3 L237.45 6.3 L238.15 6.3 L238.85 6.3 L239.55 6.3 L240.25 6.3 L240.95 6.3 L241.65 6.3 L242.35 6.3 L243.05 6.3 L243.75 6.3 L244.45 6.3 L245.15 6.3 L245.85 6.3 L246.55 6.3 L247.25 6.3 L247.95 6.3 L248.65 6.3 L249.35 6.3 L250.05 6.3 L250.74 6.3 L251.44 6.3 L252.14 6.3 L252.84 6.3 L253.54 6.3 L254.24 6.3 L254.94 6.3 L255.64 6.3 L256.34 6.3 L257.04 6.3 L257.74 6.3 L258.44 6.3 L259.14 6.3 L259.84 6.3 L260.54 6.3 L261.24 6.3 L261.94 6.3 L262.64 6.3 L263.34 6.3 L264.04 6.3 L264.73 6.3 L265.43 6.3 L266.13 6.3 L266.83 6.3 L267.53 6.3 L268.23 6.3 L268.93 6.3 L269.63 6.3 L270.33 6.3 L271.03 6.3 L271.73 6.3 L272.43 6.3 L273.13 6.3 L273.83 6.3 L274.53 6.3 L275.23 6.3 L275.93 6.3 L276.63 6.3 L277.33 6.3 L278.03 6.3 L278.72 6.3 L279.42 6.3 L280.12 6.3 L280.82 6.3 L281.52 6.3 L282.22 6.3 L282.92 6.3 L283.62 6.3 L284.32 6.3 L285.02 6.3 L285.72 6.3 L286.42 6.3 L287.12 6.3 L287.82 6.3 L288.52 6.3 L289.22 6.3 L289.92 6.3 L290.62 6.3 L291.32 6.3 L292.01 6.3 L292.71 6.3 L293.41 6.3 L294.11 6.3 L294.81 6.3 L295.51 6.3 L296.21 6.3 L296.91 6.3 L297.61 6.3 L298.31 6.3 L299.01 6.3 L299.71 6.3 L300.41 6.3 L301.11 6.3 L301.81 6.3 L302.51 6.3 L303.21 6.3 L303.91 6.3 L304.61 6.3 L305.31 6.3 L306 6.3 L306.7 6.3 L307.4 6.3 L308.1 6.3 L308.8 6.3 L309.5 6.3 L310.2 6.3 L310.9 6.3 L311.6 6.3 L312.3 6.3 L313 6.3" fill="none" stroke="#40a7d8" stroke-width="1.9" stroke-linejoin="round"/>
<line x1="456.18" y1="6.3" x2="456.18" y2="218.8" stroke="#dcdcdc" stroke-width="0.8"/>
<line x1="400.3" y1="176.3" x2="679.7" y2="176.3" stroke="#dcdcdc" stroke-width="0.8"/>
<line x1="512.06" y1="6.3" x2="512.06" y2="218.8" stroke="#dcdcdc" stroke-width="0.8"/>
<line x1="400.3" y1="133.8" x2="679.7" y2="133.8" stroke="#dcdcdc" stroke-width="0.8"/>
<line x1="567.94" y1="6.3" x2="567.94" y2="218.8" stroke="#dcdcdc" stroke-width="0.8"/>
<line x1="400.3" y1="91.3" x2="679.7" y2="91.3" stroke="#dcdcdc" stroke-width="0.8"/>
<line x1="623.82" y1="6.3" x2="623.82" y2="218.8" stroke="#dcdcdc" stroke-width="0.8"/>
<line x1="400.3" y1="48.8" x2="679.7" y2="48.8" stroke="#dcdcdc" stroke-width="0.8"/>
<line x1="679.7" y1="6.3" x2="679.7" y2="218.8" stroke="#dcdcdc" stroke-width="0.8"/>
<line x1="400.3" y1="6.3" x2="679.7" y2="6.3" stroke="#dcdcdc" stroke-width="0.8"/>
<line x1="400.3" y1="218.8" x2="679.7" y2="218.8" stroke="#808080" stroke-width="1"/>
<line x1="400.3" y1="218.8" x2="400.3" y2="6.3" stroke="#a8a8a8" stroke-width="1.2"/>
<line x1="400.3" y1="218.8" x2="400.3" y2="216" stroke="#555" stroke-width="0.8"/>
<line x1="400.3" y1="218.8" x2="403.1" y2="218.8" stroke="#555" stroke-width="0.8"/>
<line x1="456.18" y1="218.8" x2="456.18" y2="216" stroke="#555" stroke-width="0.8"/>
<line x1="400.3" y1="176.3" x2="403.1" y2="176.3" stroke="#555" stroke-width="0.8"/>
<line x1="512.06" y1="218.8" x2="512.06" y2="216" stroke="#555" stroke-width="0.8"/>
<line x1="400.3" y1="133.8" x2="403.1" y2="133.8" stroke="#555" stroke-width="0.8"/>
<line x1="567.94" y1="218.8" x2="567.94" y2="216" stroke="#555" stroke-width="0.8"/>
<line x1="400.3" y1="91.3" x2="403.1" y2="91.3" stroke="#555" stroke-width="0.8"/>
<line x1="623.82" y1="218.8" x2="623.82" y2="216" stroke="#555" stroke-width="0.8"/>
<line x1="400.3" y1="48.8" x2="403.1" y2="48.8" stroke="#555" stroke-width="0.8"/>
<line x1="679.7" y1="218.8" x2="679.7" y2="216" stroke="#555" stroke-width="0.8"/>
<line x1="400.3" y1="6.3" x2="403.1" y2="6.3" stroke="#555" stroke-width="0.8"/>
<path d="M400.3 218.8 L400.76 218.53 L401.22 218.27 L401.68 218 L402.13 217.74 L402.59 217.47 L403.05 217.21 L403.51 216.94 L403.97 216.68 L404.43 216.41 L404.89 216.14 L405.34 215.88 L405.8 215.61 L406.26 215.35 L406.72 215.08 L407.18 214.82 L407.64 214.55 L408.09 214.28 L408.55 214.02 L409.01 213.75 L409.47 213.49 L409.93 213.22 L410.39 212.96 L410.84 212.69 L411.3 212.43 L411.76 212.16 L412.22 211.89 L412.68 211.63 L413.13 211.36 L413.59 211.1 L414.05 210.83 L414.51 210.57 L414.97 210.3 L415.42 210.03 L415.88 209.77 L416.34 209.5 L416.8 209.24 L417.26 208.97 L417.71 208.71 L418.17 208.44 L418.63 208.18 L419.09 207.91 L419.54 207.64 L420 207.38 L420.46 207.11 L420.91 206.85 L421.37 206.58 L421.83 206.32 L422.29 206.05 L422.74 205.78 L423.2 205.52 L423.66 205.25 L424.11 204.99 L424.57 204.72 L425.03 204.46 L425.48 204.19 L425.94 203.93 L426.39 203.66 L426.85 203.39 L427.31 203.13 L427.76 202.86 L428.22 202.6 L428.68 202.33 L429.13 202.07 L429.59 201.8 L430.04 201.53 L430.5 201.27 L430.95 201 L431.41 200.74 L431.86 200.47 L432.32 200.21 L432.77 199.94 L433.23 199.68 L433.68 199.41 L434.14 199.14 L434.59 198.88 L435.05 198.61 L435.5 198.35 L435.96 198.08 L436.41 197.82 L436.86 197.55 L437.32 197.28 L437.77 197.02 L438.23 196.75 L438.68 196.49 L439.13 196.22 L439.59 195.96 L440.04 195.69 L440.49 195.43 L440.95 195.16 L441.4 194.89 L441.85 194.63 L442.3 194.36 L442.76 194.1 L443.21 193.83 L443.66 193.57 L444.11 193.3 L444.57 193.03 L445.02 192.77 L445.47 192.5 L445.92 192.24 L446.37 191.97 L446.82 191.71 L447.27 191.44 L447.73 191.18 L448.18 190.91 L448.63 190.64 L449.08 190.38 L449.53 190.11 L449.98 189.85 L450.43 189.58 L450.88 189.32 L451.33 189.05 L451.78 188.78 L452.23 188.52 L452.68 188.25 L453.13 187.99 L453.57 187.72 L454.02 187.46 L454.47 187.19 L454.92 186.93 L455.37 186.66 L455.82 186.39 L456.26 186.13 L456.71 185.86 L457.16 185.6 L457.61 185.33 L458.05 185.07 L458.5 184.8 L458.95 184.53 L459.4 184.27 L459.84 184 L460.29 183.74 L460.74 183.47 L461.18 183.21 L461.63 182.94 L462.07 182.68 L462.52 182.41 L462.96 182.14 L463.41 181.88 L463.85 181.61 L464.3 181.35 L464.74 181.08 L465.19 180.82 L465.63 180.55 L466.08 180.28 L466.52 180.02 L466.96 179.75 L467.41 179.49 L467.85 179.22 L468.29 178.96 L468.73 178.69 L469.18 178.43 L469.62 178.16 L470.06 177.89 L470.5 177.63 L470.94 177.36 L471.39 177.1 L471.83 176.83 L472.27 176.57 L472.71 176.3 L473.15 176.03 L473.59 175.77 L474.03 175.5 L474.47 175.24 L474.91 174.97 L475.35 174.71 L475.79 174.44 L476.23 174.18 L476.67 173.91 L477.11 173.64 L477.54 173.38 L477.98 173.11 L478.42 172.85 L478.86 172.58 L479.3 172.32 L479.73 172.05 L480.17 171.78 L480.61 171.52 L481.04 171.25 L481.48 170.99 L481.91 170.72 L482.35 170.46 L482.79 170.19 L483.22 169.93 L483.66 169.66 L484.09 169.39 L484.53 169.13 L484.96 168.86 L485.39 168.6 L485.83 168.33 L486.26 168.07 L486.69 167.8 L487.13 167.53 L487.56 167.27 L487.99 167 L488.42 166.74 L488.86 166.47 L489.29 166.21 L489.72 165.94 L490.15 165.68 L490.58 165.41 L491.01 165.14 L491.44 164.88 L491.87 164.61 L492.3 164.35 L492.73 164.08 L493.16 163.82 L493.59 163.55 L494.02 163.28 L494.45 163.02 L494.88 162.75 L495.3 162.49 L495.73 162.22 L496.16 161.96 L496.59 161.69 L497.01 161.43 L497.44 161.16 L497.87 160.89 L498.29 160.63 L498.72 160.36 L499.14 160.1 L499.57 159.83 L499.99 159.57 L500.42 159.3 L500.84 159.03 L501.27 158.77 L501.69 158.5 L502.11 158.24 L502.54 157.97 L502.96 157.71 L503.38 157.44 L503.8 157.18 L504.23 156.91 L504.65 156.64 L505.07 156.38 L505.49 156.11 L505.91 155.85 L506.33 155.58 L506.75 155.32 L507.17 155.05 L507.59 154.78 L508.01 154.52 L508.43 154.25 L508.85 153.99 L509.27 153.72 L509.68 153.46 L510.1 153.19 L510.52 152.93 L510.94 152.66 L511.35 152.39 L511.77 152.13 L512.19 151.86 L512.6 151.6 L513.02 151.33 L513.43 151.07 L513.85 150.8 L514.26 150.53 L514.68 150.27 L515.09 150 L515.5 149.74 L515.92 149.47 L516.33 149.21 L516.74 148.94 L517.15 148.68 L517.57 148.41 L517.98 148.14 L518.39 147.88 L518.8 147.61 L519.21 147.35 L519.62 147.08 L520.03 146.82 L520.44 146.55 L520.85 146.28 L521.26 146.02 L521.67 145.75 L522.07 145.49 L522.48 145.22 L522.89 144.96 L523.3 144.69 L523.7 144.43 L524.11 144.16 L524.52 143.89 L524.92 143.63 L525.33 143.36 L525.73 143.1 L526.14 142.83 L526.54 142.57 L526.95 142.3 L527.35 142.03 L527.75 141.77 L528.16 141.5 L528.56 141.24 L528.96 140.97 L529.36 140.71 L529.76 140.44 L530.17 140.18 L530.57 139.91 L530.97 139.64 L531.37 139.38 L531.77 139.11 L532.17 138.85 L532.57 138.58 L532.97 138.32 L533.36 138.05 L533.76 137.78 L534.16 137.52 L534.56 137.25 L534.95 136.99 L535.35 136.72 L535.75 136.46 L536.14 136.19 L536.54 135.93 L536.93 135.66 L537.33 135.39 L537.72 135.13 L538.12 134.86 L538.51 134.6 L538.9 134.33 L539.3 134.07 L539.69 133.8 L540.08 133.53 L540.47 133.27 L540.86 133 L541.26 132.74 L541.65 132.47 L542.04 132.21 L542.43 131.94 L542.82 131.68 L543.21 131.41 L543.59 131.14 L543.98 130.88 L544.37 130.61 L544.76 130.35 L545.15 130.08 L545.53 129.82 L545.92 129.55 L546.3 129.28 L546.69 129.02 L547.08 128.75 L547.46 128.49 L547.85 128.22 L548.23 127.96 L548.61 127.69 L549 127.43 L549.38 127.16 L549.76 126.89 L550.14 126.63 L550.53 126.36 L550.91 126.1 L551.29 125.83 L551.67 125.57 L552.05 125.3 L552.43 125.03 L552.81 124.77 L553.19 124.5 L553.57 124.24 L553.95 123.97 L554.32 123.71 L554.7 123.44 L555.08 123.18 L555.46 122.91 L555.83 122.64 L556.21 122.38 L556.58 122.11 L556.96 121.85 L557.33 121.58 L557.71 121.32 L558.08 121.05 L558.46 120.78 L558.83 120.52 L559.2 120.25 L559.57 119.99 L559.95 119.72 L560.32 119.46 L560.69 119.19 L561.06 118.93 L561.43 118.66 L561.8 118.39 L562.17 118.13 L562.54 117.86 L562.91 117.6 L563.27 117.33 L563.64 117.07 L564.01 116.8 L564.38 116.53 L564.74 116.27 L565.11 116 L565.48 115.74 L565.84 115.47 L566.21 115.21 L566.57 114.94 L566.93 114.68 L567.3 114.41 L567.66 114.14 L568.02 113.88 L568.39 113.61 L568.75 113.35 L569.11 113.08 L569.47 112.82 L569.83 112.55 L570.19 112.28 L570.55 112.02 L570.91 111.75 L571.27 111.49 L571.63 111.22 L571.99 110.96 L572.35 110.69 L572.71 110.43 L573.06 110.16 L573.42 109.89 L573.78 109.63 L574.13 109.36 L574.49 109.1 L574.84 108.83 L575.2 108.57 L575.55 108.3 L575.9 108.03 L576.26 107.77 L576.61 107.5 L576.96 107.24 L577.31 106.97 L577.67 106.71 L578.02 106.44 L578.37 106.18 L578.72 105.91 L579.07 105.64 L579.42 105.38 L579.77 105.11 L580.12 104.85 L580.46 104.58 L580.81 104.32 L581.16 104.05 L581.51 103.78 L581.85 103.52 L582.2 103.25 L582.54 102.99 L582.89 102.72 L583.23 102.46 L583.58 102.19 L583.92 101.92 L584.27 101.66 L584.61 101.39 L584.95 101.13 L585.29 100.86 L585.63 100.6 L585.98 100.33 L586.32 100.07 L586.66 99.8 L587 99.53 L587.34 99.27 L587.68 99 L588.02 98.74 L588.35 98.47 L588.69 98.21 L589.03 97.94 L589.37 97.67 L589.7 97.41 L590.04 97.14 L590.37 96.88 L590.71 96.61 L591.04 96.35 L591.38 96.08 L591.71 95.82 L592.05 95.55 L592.38 95.28 L592.71 95.02 L593.04 94.75 L593.38 94.49 L593.71 94.22 L594.04 93.96 L594.37 93.69 L594.7 93.43 L595.03 93.16 L595.36 92.89 L595.69 92.63 L596.01 92.36 L596.34 92.1 L596.67 91.83 L597 91.57 L597.32 91.3 L597.65 91.03 L597.97 90.77 L598.3 90.5 L598.62 90.24 L598.95 89.97 L599.27 89.71 L599.6 89.44 L599.92 89.18 L600.24 88.91 L600.56 88.64 L600.89 88.38 L601.21 88.11 L601.53 87.85 L601.85 87.58 L602.17 87.32 L602.49 87.05 L602.81 86.78 L603.13 86.52 L603.44 86.25 L603.76 85.99 L604.08 85.72 L604.4 85.46 L604.71 85.19 L605.03 84.93 L605.34 84.66 L605.66 84.39 L605.97 84.13 L606.29 83.86 L606.6 83.6 L606.91 83.33 L607.23 83.07 L607.54 82.8 L607.85 82.53 L608.16 82.27 L608.47 82 L608.79 81.74 L609.1 81.47 L609.41 81.21 L609.72 80.94 L610.02 80.68 L610.33 80.41 L610.64 80.14 L610.95 79.88 L611.26 79.61 L611.56 79.35 L611.87 79.08 L612.17 78.82 L612.48 78.55 L612.78 78.28 L613.09 78.02 L613.39 77.75 L613.7 77.49 L614 77.22 L614.3 76.96 L614.61 76.69 L614.91 76.43 L615.21 76.16 L615.51 75.89 L615.81 75.63 L616.11 75.36 L616.41 75.1 L616.71 74.83 L617.01 74.57 L617.31 74.3 L617.6 74.03 L617.9 73.77 L618.2 73.5 L618.49 73.24 L618.79 72.97 L619.09 72.71 L619.38 72.44 L619.68 72.18 L619.97 71.91 L620.27 71.64 L620.56 71.38 L620.85 71.11 L621.14 70.85 L621.44 70.58 L621.73 70.32 L622.02 70.05 L622.31 69.78 L622.6 69.52 L622.89 69.25 L623.18 68.99 L623.47 68.72 L623.76 68.46 L624.05 68.19 L624.33 67.93 L624.62 67.66 L624.91 67.39 L625.19 67.13 L625.48 66.86 L625.77 66.6 L626.05 66.33 L626.34 66.07 L626.62 65.8 L626.9 65.53 L627.19 65.27 L627.47 65 L627.75 64.74 L628.04 64.47 L628.32 64.21 L628.6 63.94 L628.88 63.68 L629.16 63.41 L629.44 63.14 L629.72 62.88 L630 62.61 L630.28 62.35 L630.55 62.08 L630.83 61.82 L631.11 61.55 L631.39 61.28 L631.66 61.02 L631.94 60.75 L632.21 60.49 L632.49 60.22 L632.76 59.96 L633.04 59.69 L633.31 59.43 L633.59 59.16 L633.86 58.89 L634.13 58.63 L634.4 58.36 L634.67 58.1 L634.95 57.83 L635.22 57.57 L635.49 57.3 L635.76 57.03 L636.03 56.77 L636.3 56.5 L636.56 56.24 L636.83 55.97 L637.1 55.71 L637.37 55.44 L637.63 55.18 L637.9 54.91 L638.17 54.64 L638.43 54.38 L638.7 54.11 L638.96 53.85 L639.23 53.58 L639.49 53.32 L639.75 53.05 L640.02 52.78 L640.28 52.52 L640.54 52.25 L640.8 51.99 L641.06 51.72 L641.32 51.46 L641.59 51.19 L641.85 50.93 L642.1 50.66 L642.36 50.39 L642.62 50.13 L642.88 49.86 L643.14 49.6 L643.4 49.33 L643.65 49.07 L643.91 48.8 L644.17 48.53 L644.42 48.27 L644.68 48 L644.93 47.74 L645.19 47.47 L645.44 47.21 L645.69 46.94 L645.95 46.68 L646.2 46.41 L646.45 46.14 L646.7 45.88 L646.96 45.61 L647.21 45.35 L647.46 45.08 L647.71 44.82 L647.96 44.55 L648.21 44.28 L648.46 44.02 L648.7 43.75 L648.95 43.49 L649.2 43.22 L649.45 42.96 L649.69 42.69 L649.94 42.42 L650.19 42.16 L650.43 41.89 L650.68 41.63 L650.92 41.36 L651.17 41.1 L651.41 40.83 L651.65 40.57 L651.9 40.3 L652.14 40.03 L652.38 39.77 L652.62 39.5 L652.87 39.24 L653.11 38.97 L653.35 38.71 L653.59 38.44 L653.83 38.18 L654.07 37.91 L654.31 37.64 L654.54 37.38 L654.78 37.11 L655.02 36.85 L655.26 36.58 L655.49 36.32 L655.73 36.05 L655.97 35.78 L656.2 35.52 L656.44 35.25 L656.67 34.99 L656.91 34.72 L657.14 34.46 L657.37 34.19 L657.61 33.93 L657.84 33.66 L658.07 33.39 L658.3 33.13 L658.54 32.86 L658.77 32.6 L659 32.33 L659.23 32.07 L659.46 31.8 L659.69 31.53 L659.92 31.27 L660.15 31 L660.37 30.74 L660.6 30.47 L660.83 30.21 L661.06 29.94 L661.28 29.68 L661.51 29.41 L661.74 29.14 L661.96 28.88 L662.19 28.61 L662.41 28.35 L662.64 28.08 L662.86 27.82 L663.08 27.55 L663.31 27.28 L663.53 27.02 L663.75 26.75 L663.97 26.49 L664.19 26.22 L664.42 25.96 L664.64 25.69 L664.86 25.43 L665.08 25.16 L665.3 24.89 L665.51 24.63 L665.73 24.36 L665.95 24.1 L666.17 23.83 L666.39 23.57 L666.6 23.3 L666.82 23.03 L667.04 22.77 L667.25 22.5 L667.47 22.24 L667.68 21.97 L667.9 21.71 L668.11 21.44 L668.33 21.18 L668.54 20.91 L668.75 20.64 L668.97 20.38 L669.18 20.11 L669.39 19.85 L669.6 19.58 L669.81 19.32 L670.03 19.05 L670.24 18.78 L670.45 18.52 L670.66 18.25 L670.86 17.99 L671.07 17.72 L671.28 17.46 L671.49 17.19 L671.7 16.93 L671.91 16.66 L672.11 16.39 L672.32 16.13 L672.53 15.86 L672.73 15.6 L672.94 15.33 L673.14 15.07 L673.35 14.8 L673.55 14.53 L673.76 14.27 L673.96 14 L674.16 13.74 L674.36 13.47 L674.57 13.21 L674.77 12.94 L674.97 12.68 L675.17 12.41 L675.37 12.14 L675.57 11.88 L675.77 11.61 L675.97 11.35 L676.17 11.08 L676.37 10.82 L676.57 10.55 L676.77 10.28 L676.97 10.02 L677.17 9.75 L677.36 9.49 L677.56 9.22 L677.76 8.96 L677.95 8.69 L678.15 8.43 L678.34 8.16 L678.54 7.89 L678.73 7.63 L678.93 7.36 L679.12 7.1 L679.31 6.83 L679.51 6.57 L679.7 6.3" fill="none" stroke="#0e2766" stroke-width="2.1" stroke-dasharray="6.4 2.3 3.0 2.3" stroke-linejoin="round"/>
<path d="M400.3 218.8 L401.35 218.53 L402.41 218.27 L403.46 218 L404.51 217.74 L405.56 217.47 L406.62 217.21 L407.67 216.94 L408.72 216.68 L409.77 216.41 L410.82 216.14 L411.88 215.88 L412.93 215.61 L413.98 215.35 L415.03 215.08 L416.08 214.82 L417.13 214.55 L418.18 214.28 L419.22 214.02 L420.27 213.75 L421.32 213.49 L422.37 213.22 L423.41 212.96 L424.46 212.69 L425.5 212.43 L426.55 212.16 L427.59 211.89 L428.63 211.63 L429.67 211.36 L430.72 211.1 L431.76 210.83 L432.8 210.57 L433.83 210.3 L434.87 210.03 L435.91 209.77 L436.94 209.5 L437.98 209.24 L439.01 208.97 L440.04 208.71 L441.08 208.44 L442.11 208.18 L443.13 207.91 L444.16 207.64 L445.19 207.38 L446.21 207.11 L447.24 206.85 L448.26 206.58 L449.28 206.32 L450.3 206.05 L451.32 205.78 L452.34 205.52 L453.36 205.25 L454.37 204.99 L455.38 204.72 L456.4 204.46 L457.41 204.19 L458.41 203.93 L459.42 203.66 L460.43 203.39 L461.43 203.13 L462.43 202.86 L463.43 202.6 L464.43 202.33 L465.43 202.07 L466.42 201.8 L467.42 201.53 L468.41 201.27 L469.4 201 L470.39 200.74 L471.37 200.47 L472.36 200.21 L473.34 199.94 L474.32 199.68 L475.3 199.41 L476.28 199.14 L477.25 198.88 L478.23 198.61 L479.2 198.35 L480.17 198.08 L481.13 197.82 L482.1 197.55 L483.06 197.28 L484.02 197.02 L484.98 196.75 L485.93 196.49 L486.89 196.22 L487.84 195.96 L488.79 195.69 L489.74 195.43 L490.68 195.16 L491.62 194.89 L492.57 194.63 L493.5 194.36 L494.44 194.1 L495.37 193.83 L496.3 193.57 L497.23 193.3 L498.16 193.03 L499.08 192.77 L500 192.5 L500.92 192.24 L501.84 191.97 L502.75 191.71 L503.66 191.44 L504.57 191.18 L505.48 190.91 L506.38 190.64 L507.29 190.38 L508.18 190.11 L509.08 189.85 L509.97 189.58 L510.87 189.32 L511.75 189.05 L512.64 188.78 L513.52 188.52 L514.4 188.25 L515.28 187.99 L516.16 187.72 L517.03 187.46 L517.9 187.19 L518.76 186.93 L519.63 186.66 L520.49 186.39 L521.35 186.13 L522.2 185.86 L523.06 185.6 L523.91 185.33 L524.76 185.07 L525.6 184.8 L526.44 184.53 L527.28 184.27 L528.12 184 L528.95 183.74 L529.78 183.47 L530.61 183.21 L531.43 182.94 L532.26 182.68 L533.07 182.41 L533.89 182.14 L534.7 181.88 L535.51 181.61 L536.32 181.35 L537.13 181.08 L537.93 180.82 L538.73 180.55 L539.52 180.28 L540.31 180.02 L541.1 179.75 L541.89 179.49 L542.67 179.22 L543.45 178.96 L544.23 178.69 L545.01 178.43 L545.78 178.16 L546.55 177.89 L547.31 177.63 L548.08 177.36 L548.84 177.1 L549.59 176.83 L550.35 176.57 L551.1 176.3 L551.85 176.03 L552.59 175.77 L553.33 175.5 L554.07 175.24 L554.81 174.97 L555.54 174.71 L556.27 174.44 L556.99 174.18 L557.72 173.91 L558.44 173.64 L559.16 173.38 L559.87 173.11 L560.58 172.85 L561.29 172.58 L562 172.32 L562.7 172.05 L563.4 171.78 L564.09 171.52 L564.79 171.25 L565.48 170.99 L566.16 170.72 L566.85 170.46 L567.53 170.19 L568.21 169.93 L568.88 169.66 L569.55 169.39 L570.22 169.13 L570.89 168.86 L571.55 168.6 L572.21 168.33 L572.87 168.07 L573.52 167.8 L574.17 167.53 L574.82 167.27 L575.46 167 L576.11 166.74 L576.74 166.47 L577.38 166.21 L578.01 165.94 L578.64 165.68 L579.27 165.41 L579.89 165.14 L580.51 164.88 L581.13 164.61 L581.75 164.35 L582.36 164.08 L582.97 163.82 L583.57 163.55 L584.18 163.28 L584.78 163.02 L585.37 162.75 L585.97 162.49 L586.56 162.22 L587.15 161.96 L587.73 161.69 L588.31 161.43 L588.89 161.16 L589.47 160.89 L590.04 160.63 L590.61 160.36 L591.18 160.1 L591.75 159.83 L592.31 159.57 L592.87 159.3 L593.42 159.03 L593.98 158.77 L594.53 158.5 L595.08 158.24 L595.62 157.97 L596.16 157.71 L596.7 157.44 L597.24 157.18 L597.77 156.91 L598.3 156.64 L598.83 156.38 L599.36 156.11 L599.88 155.85 L600.4 155.58 L600.91 155.32 L601.43 155.05 L601.94 154.78 L602.45 154.52 L602.95 154.25 L603.46 153.99 L603.96 153.72 L604.46 153.46 L604.95 153.19 L605.44 152.93 L605.93 152.66 L606.42 152.39 L606.9 152.13 L607.38 151.86 L607.86 151.6 L608.34 151.33 L608.81 151.07 L609.28 150.8 L609.75 150.53 L610.22 150.27 L610.68 150 L611.14 149.74 L611.6 149.47 L612.06 149.21 L612.51 148.94 L612.96 148.68 L613.41 148.41 L613.85 148.14 L614.29 147.88 L614.73 147.61 L615.17 147.35 L615.61 147.08 L616.04 146.82 L616.47 146.55 L616.9 146.28 L617.32 146.02 L617.75 145.75 L618.17 145.49 L618.58 145.22 L619 144.96 L619.41 144.69 L619.82 144.43 L620.23 144.16 L620.64 143.89 L621.04 143.63 L621.44 143.36 L621.84 143.1 L622.24 142.83 L622.63 142.57 L623.02 142.3 L623.41 142.03 L623.8 141.77 L624.18 141.5 L624.56 141.24 L624.94 140.97 L625.32 140.71 L625.7 140.44 L626.07 140.18 L626.44 139.91 L626.81 139.64 L627.18 139.38 L627.54 139.11 L627.9 138.85 L628.26 138.58 L628.62 138.32 L628.98 138.05 L629.33 137.78 L629.68 137.52 L630.03 137.25 L630.38 136.99 L630.72 136.72 L631.07 136.46 L631.41 136.19 L631.75 135.93 L632.08 135.66 L632.42 135.39 L632.75 135.13 L633.08 134.86 L633.41 134.6 L633.73 134.33 L634.06 134.07 L634.38 133.8 L634.7 133.53 L635.02 133.27 L635.34 133 L635.65 132.74 L635.96 132.47 L636.27 132.21 L636.58 131.94 L636.89 131.68 L637.19 131.41 L637.49 131.14 L637.79 130.88 L638.09 130.61 L638.39 130.35 L638.68 130.08 L638.98 129.82 L639.27 129.55 L639.56 129.28 L639.85 129.02 L640.13 128.75 L640.42 128.49 L640.7 128.22 L640.98 127.96 L641.26 127.69 L641.53 127.43 L641.81 127.16 L642.08 126.89 L642.35 126.63 L642.62 126.36 L642.89 126.1 L643.16 125.83 L643.42 125.57 L643.68 125.3 L643.94 125.03 L644.2 124.77 L644.46 124.5 L644.72 124.24 L644.97 123.97 L645.22 123.71 L645.47 123.44 L645.72 123.18 L645.97 122.91 L646.22 122.64 L646.46 122.38 L646.71 122.11 L646.95 121.85 L647.19 121.58 L647.42 121.32 L647.66 121.05 L647.9 120.78 L648.13 120.52 L648.36 120.25 L648.59 119.99 L648.82 119.72 L649.05 119.46 L649.27 119.19 L649.5 118.93 L649.72 118.66 L649.94 118.39 L650.16 118.13 L650.38 117.86 L650.6 117.6 L650.81 117.33 L651.03 117.07 L651.24 116.8 L651.45 116.53 L651.66 116.27 L651.87 116 L652.08 115.74 L652.28 115.47 L652.49 115.21 L652.69 114.94 L652.89 114.68 L653.09 114.41 L653.29 114.14 L653.49 113.88 L653.68 113.61 L653.88 113.35 L654.07 113.08 L654.26 112.82 L654.46 112.55 L654.64 112.28 L654.83 112.02 L655.02 111.75 L655.21 111.49 L655.39 111.22 L655.57 110.96 L655.76 110.69 L655.94 110.43 L656.12 110.16 L656.29 109.89 L656.47 109.63 L656.65 109.36 L656.82 109.1 L657 108.83 L657.17 108.57 L657.34 108.3 L657.51 108.03 L657.68 107.77 L657.85 107.5 L658.01 107.24 L658.18 106.97 L658.34 106.71 L658.51 106.44 L658.67 106.18 L658.83 105.91 L658.99 105.64 L659.15 105.38 L659.3 105.11 L659.46 104.85 L659.62 104.58 L659.77 104.32 L659.92 104.05 L660.08 103.78 L660.23 103.52 L660.38 103.25 L660.53 102.99 L660.67 102.72 L660.82 102.46 L660.97 102.19 L661.11 101.92 L661.26 101.66 L661.4 101.39 L661.54 101.13 L661.68 100.86 L661.82 100.6 L661.96 100.33 L662.1 100.07 L662.24 99.8 L662.37 99.53 L662.51 99.27 L662.64 99 L662.78 98.74 L662.91 98.47 L663.04 98.21 L663.17 97.94 L663.3 97.67 L663.43 97.41 L663.56 97.14 L663.68 96.88 L663.81 96.61 L663.93 96.35 L664.06 96.08 L664.18 95.82 L664.3 95.55 L664.43 95.28 L664.55 95.02 L664.67 94.75 L664.79 94.49 L664.9 94.22 L665.02 93.96 L665.14 93.69 L665.25 93.43 L665.37 93.16 L665.48 92.89 L665.6 92.63 L665.71 92.36 L665.82 92.1 L665.93 91.83 L666.04 91.57 L666.15 91.3 L666.26 91.03 L666.37 90.77 L666.48 90.5 L666.58 90.24 L666.69 89.97 L666.79 89.71 L666.9 89.44 L667 89.18 L667.1 88.91 L667.2 88.64 L667.31 88.38 L667.41 88.11 L667.51 87.85 L667.61 87.58 L667.7 87.32 L667.8 87.05 L667.9 86.78 L667.99 86.52 L668.09 86.25 L668.19 85.99 L668.28 85.72 L668.37 85.46 L668.47 85.19 L668.56 84.93 L668.65 84.66 L668.74 84.39 L668.83 84.13 L668.92 83.86 L669.01 83.6 L669.1 83.33 L669.19 83.07 L669.27 82.8 L669.36 82.53 L669.44 82.27 L669.53 82 L669.61 81.74 L669.7 81.47 L669.78 81.21 L669.86 80.94 L669.95 80.68 L670.03 80.41 L670.11 80.14 L670.19 79.88 L670.27 79.61 L670.35 79.35 L670.43 79.08 L670.51 78.82 L670.58 78.55 L670.66 78.28 L670.74 78.02 L670.81 77.75 L670.89 77.49 L670.96 77.22 L671.04 76.96 L671.11 76.69 L671.18 76.43 L671.26 76.16 L671.33 75.89 L671.4 75.63 L671.47 75.36 L671.54 75.1 L671.61 74.83 L671.68 74.57 L671.75 74.3 L671.82 74.03 L671.89 73.77 L671.96 73.5 L672.02 73.24 L672.09 72.97 L672.16 72.71 L672.22 72.44 L672.29 72.18 L672.35 71.91 L672.42 71.64 L672.48 71.38 L672.54 71.11 L672.61 70.85 L672.67 70.58 L672.73 70.32 L672.79 70.05 L672.85 69.78 L672.91 69.52 L672.97 69.25 L673.03 68.99 L673.09 68.72 L673.15 68.46 L673.21 68.19 L673.27 67.93 L673.33 67.66 L673.38 67.39 L673.44 67.13 L673.5 66.86 L673.55 66.6 L673.61 66.33 L673.66 66.07 L673.72 65.8 L673.77 65.53 L673.83 65.27 L673.88 65 L673.93 64.74 L673.99 64.47 L674.04 64.21 L674.09 63.94 L674.14 63.68 L674.19 63.41 L674.24 63.14 L674.29 62.88 L674.34 62.61 L674.39 62.35 L674.44 62.08 L674.49 61.82 L674.54 61.55 L674.59 61.28 L674.64 61.02 L674.69 60.75 L674.73 60.49 L674.78 60.22 L674.83 59.96 L674.87 59.69 L674.92 59.43 L674.96 59.16 L675.01 58.89 L675.05 58.63 L675.1 58.36 L675.14 58.1 L675.19 57.83 L675.23 57.57 L675.27 57.3 L675.32 57.03 L675.36 56.77 L675.4 56.5 L675.44 56.24 L675.49 55.97 L675.53 55.71 L675.57 55.44 L675.61 55.18 L675.65 54.91 L675.69 54.64 L675.73 54.38 L675.77 54.11 L675.81 53.85 L675.85 53.58 L675.89 53.32 L675.93 53.05 L675.96 52.78 L676 52.52 L676.04 52.25 L676.08 51.99 L676.11 51.72 L676.15 51.46 L676.19 51.19 L676.22 50.93 L676.26 50.66 L676.3 50.39 L676.33 50.13 L676.37 49.86 L676.4 49.6 L676.44 49.33 L676.47 49.07 L676.5 48.8 L676.54 48.53 L676.57 48.27 L676.61 48 L676.64 47.74 L676.67 47.47 L676.7 47.21 L676.74 46.94 L676.77 46.68 L676.8 46.41 L676.83 46.14 L676.86 45.88 L676.9 45.61 L676.93 45.35 L676.96 45.08 L676.99 44.82 L677.02 44.55 L677.05 44.28 L677.08 44.02 L677.11 43.75 L677.14 43.49 L677.17 43.22 L677.2 42.96 L677.23 42.69 L677.25 42.42 L677.28 42.16 L677.31 41.89 L677.34 41.63 L677.37 41.36 L677.39 41.1 L677.42 40.83 L677.45 40.57 L677.48 40.3 L677.5 40.03 L677.53 39.77 L677.56 39.5 L677.58 39.24 L677.61 38.97 L677.63 38.71 L677.66 38.44 L677.69 38.18 L677.71 37.91 L677.74 37.64 L677.76 37.38 L677.79 37.11 L677.81 36.85 L677.83 36.58 L677.86 36.32 L677.88 36.05 L677.91 35.78 L677.93 35.52 L677.95 35.25 L677.98 34.99 L678 34.72 L678.02 34.46 L678.05 34.19 L678.07 33.93 L678.09 33.66 L678.11 33.39 L678.14 33.13 L678.16 32.86 L678.18 32.6 L678.2 32.33 L678.22 32.07 L678.24 31.8 L678.26 31.53 L678.29 31.27 L678.31 31 L678.33 30.74 L678.35 30.47 L678.37 30.21 L678.39 29.94 L678.41 29.68 L678.43 29.41 L678.45 29.14 L678.47 28.88 L678.49 28.61 L678.51 28.35 L678.53 28.08 L678.54 27.82 L678.56 27.55 L678.58 27.28 L678.6 27.02 L678.62 26.75 L678.64 26.49 L678.66 26.22 L678.67 25.96 L678.69 25.69 L678.71 25.43 L678.73 25.16 L678.75 24.89 L678.76 24.63 L678.78 24.36 L678.8 24.1 L678.81 23.83 L678.83 23.57 L678.85 23.3 L678.86 23.03 L678.88 22.77 L678.9 22.5 L678.91 22.24 L678.93 21.97 L678.95 21.71 L678.96 21.44 L678.98 21.18 L678.99 20.91 L679.01 20.64 L679.02 20.38 L679.04 20.11 L679.06 19.85 L679.07 19.58 L679.09 19.32 L679.1 19.05 L679.12 18.78 L679.13 18.52 L679.14 18.25 L679.16 17.99 L679.17 17.72 L679.19 17.46 L679.2 17.19 L679.22 16.93 L679.23 16.66 L679.24 16.39 L679.26 16.13 L679.27 15.86 L679.28 15.6 L679.3 15.33 L679.31 15.07 L679.32 14.8 L679.34 14.53 L679.35 14.27 L679.36 14 L679.38 13.74 L679.39 13.47 L679.4 13.21 L679.41 12.94 L679.43 12.68 L679.44 12.41 L679.45 12.14 L679.46 11.88 L679.48 11.61 L679.49 11.35 L679.5 11.08 L679.51 10.82 L679.52 10.55 L679.54 10.28 L679.55 10.02 L679.56 9.75 L679.57 9.49 L679.58 9.22 L679.59 8.96 L679.6 8.69 L679.61 8.43 L679.63 8.16 L679.64 7.89 L679.65 7.63 L679.66 7.36 L679.67 7.1 L679.68 6.83 L679.69 6.57 L679.7 6.3" fill="none" stroke="#9e2616" stroke-width="2.1" stroke-dasharray="6.4 2.3 3.0 2.3" stroke-linejoin="round"/>
<path d="M400.3 218.8 L402.05 218.53 L403.79 218.27 L405.54 218 L407.28 217.74 L409.03 217.47 L410.77 217.21 L412.52 216.94 L414.26 216.68 L416 216.41 L417.74 216.14 L419.48 215.88 L421.22 215.61 L422.95 215.35 L424.69 215.08 L426.42 214.82 L428.15 214.55 L429.88 214.28 L431.6 214.02 L433.33 213.75 L435.05 213.49 L436.77 213.22 L438.48 212.96 L440.19 212.69 L441.9 212.43 L443.61 212.16 L445.31 211.89 L447.01 211.63 L448.71 211.36 L450.4 211.1 L452.09 210.83 L453.77 210.57 L455.45 210.3 L457.13 210.03 L458.8 209.77 L460.47 209.5 L462.13 209.24 L463.79 208.97 L465.44 208.71 L467.09 208.44 L468.74 208.18 L470.38 207.91 L472.01 207.64 L473.64 207.38 L475.26 207.11 L476.88 206.85 L478.49 206.58 L480.1 206.32 L481.7 206.05 L483.3 205.78 L484.88 205.52 L486.47 205.25 L488.05 204.99 L489.62 204.72 L491.18 204.46 L492.74 204.19 L494.29 203.93 L495.84 203.66 L497.38 203.39 L498.91 203.13 L500.43 202.86 L501.95 202.6 L503.46 202.33 L504.97 202.07 L506.47 201.8 L507.96 201.53 L509.44 201.27 L510.92 201 L512.39 200.74 L513.85 200.47 L515.3 200.21 L516.75 199.94 L518.19 199.68 L519.62 199.41 L521.05 199.14 L522.46 198.88 L523.87 198.61 L525.27 198.35 L526.66 198.08 L528.05 197.82 L529.43 197.55 L530.8 197.28 L532.16 197.02 L533.51 196.75 L534.86 196.49 L536.19 196.22 L537.52 195.96 L538.85 195.69 L540.16 195.43 L541.46 195.16 L542.76 194.89 L544.05 194.63 L545.33 194.36 L546.6 194.1 L547.86 193.83 L549.12 193.57 L550.37 193.3 L551.6 193.03 L552.83 192.77 L554.06 192.5 L555.27 192.24 L556.47 191.97 L557.67 191.71 L558.86 191.44 L560.04 191.18 L561.21 190.91 L562.37 190.64 L563.53 190.38 L564.67 190.11 L565.81 189.85 L566.94 189.58 L568.06 189.32 L569.18 189.05 L570.28 188.78 L571.38 188.52 L572.46 188.25 L573.54 187.99 L574.61 187.72 L575.68 187.46 L576.73 187.19 L577.78 186.93 L578.81 186.66 L579.84 186.39 L580.87 186.13 L581.88 185.86 L582.88 185.6 L583.88 185.33 L584.87 185.07 L585.85 184.8 L586.82 184.53 L587.79 184.27 L588.74 184 L589.69 183.74 L590.63 183.47 L591.56 183.21 L592.49 182.94 L593.4 182.68 L594.31 182.41 L595.21 182.14 L596.1 181.88 L596.99 181.61 L597.87 181.35 L598.74 181.08 L599.6 180.82 L600.45 180.55 L601.3 180.28 L602.14 180.02 L602.97 179.75 L603.79 179.49 L604.61 179.22 L605.42 178.96 L606.22 178.69 L607.01 178.43 L607.8 178.16 L608.58 177.89 L609.35 177.63 L610.12 177.36 L610.88 177.1 L611.63 176.83 L612.37 176.57 L613.11 176.3 L613.84 176.03 L614.56 175.77 L615.28 175.5 L615.99 175.24 L616.69 174.97 L617.39 174.71 L618.07 174.44 L618.76 174.18 L619.43 173.91 L620.1 173.64 L620.76 173.38 L621.42 173.11 L622.07 172.85 L622.71 172.58 L623.35 172.32 L623.98 172.05 L624.6 171.78 L625.22 171.52 L625.83 171.25 L626.44 170.99 L627.04 170.72 L627.63 170.46 L628.22 170.19 L628.8 169.93 L629.38 169.66 L629.95 169.39 L630.51 169.13 L631.07 168.86 L631.62 168.6 L632.17 168.33 L632.71 168.07 L633.24 167.8 L633.77 167.53 L634.3 167.27 L634.82 167 L635.33 166.74 L635.84 166.47 L636.34 166.21 L636.84 165.94 L637.33 165.68 L637.82 165.41 L638.3 165.14 L638.78 164.88 L639.25 164.61 L639.72 164.35 L640.18 164.08 L640.64 163.82 L641.09 163.55 L641.53 163.28 L641.98 163.02 L642.41 162.75 L642.85 162.49 L643.28 162.22 L643.7 161.96 L644.12 161.69 L644.53 161.43 L644.94 161.16 L645.35 160.89 L645.75 160.63 L646.15 160.36 L646.54 160.1 L646.93 159.83 L647.31 159.57 L647.69 159.3 L648.07 159.03 L648.44 158.77 L648.8 158.5 L649.17 158.24 L649.53 157.97 L649.88 157.71 L650.23 157.44 L650.58 157.18 L650.92 156.91 L651.26 156.64 L651.6 156.38 L651.93 156.11 L652.26 155.85 L652.58 155.58 L652.9 155.32 L653.22 155.05 L653.54 154.78 L653.85 154.52 L654.15 154.25 L654.46 153.99 L654.76 153.72 L655.05 153.46 L655.35 153.19 L655.63 152.93 L655.92 152.66 L656.2 152.39 L656.48 152.13 L656.76 151.86 L657.04 151.6 L657.31 151.33 L657.57 151.07 L657.84 150.8 L658.1 150.53 L658.36 150.27 L658.61 150 L658.87 149.74 L659.11 149.47 L659.36 149.21 L659.61 148.94 L659.85 148.68 L660.08 148.41 L660.32 148.14 L660.55 147.88 L660.78 147.61 L661.01 147.35 L661.24 147.08 L661.46 146.82 L661.68 146.55 L661.89 146.28 L662.11 146.02 L662.32 145.75 L662.53 145.49 L662.74 145.22 L662.94 144.96 L663.14 144.69 L663.34 144.43 L663.54 144.16 L663.74 143.89 L663.93 143.63 L664.12 143.36 L664.31 143.1 L664.5 142.83 L664.68 142.57 L664.86 142.3 L665.04 142.03 L665.22 141.77 L665.39 141.5 L665.57 141.24 L665.74 140.97 L665.91 140.71 L666.08 140.44 L666.24 140.18 L666.41 139.91 L666.57 139.64 L666.73 139.38 L666.88 139.11 L667.04 138.85 L667.19 138.58 L667.35 138.32 L667.5 138.05 L667.65 137.78 L667.79 137.52 L667.94 137.25 L668.08 136.99 L668.22 136.72 L668.36 136.46 L668.5 136.19 L668.64 135.93 L668.77 135.66 L668.91 135.39 L669.04 135.13 L669.17 134.86 L669.3 134.6 L669.42 134.33 L669.55 134.07 L669.67 133.8 L669.8 133.53 L669.92 133.27 L670.04 133 L670.16 132.74 L670.27 132.47 L670.39 132.21 L670.5 131.94 L670.61 131.68 L670.73 131.41 L670.84 131.14 L670.94 130.88 L671.05 130.61 L671.16 130.35 L671.26 130.08 L671.37 129.82 L671.47 129.55 L671.57 129.28 L671.67 129.02 L671.77 128.75 L671.87 128.49 L671.96 128.22 L672.06 127.96 L672.15 127.69 L672.24 127.43 L672.34 127.16 L672.43 126.89 L672.52 126.63 L672.6 126.36 L672.69 126.1 L672.78 125.83 L672.86 125.57 L672.95 125.3 L673.03 125.03 L673.11 124.77 L673.19 124.5 L673.27 124.24 L673.35 123.97 L673.43 123.71 L673.51 123.44 L673.59 123.18 L673.66 122.91 L673.74 122.64 L673.81 122.38 L673.88 122.11 L673.95 121.85 L674.02 121.58 L674.09 121.32 L674.16 121.05 L674.23 120.78 L674.3 120.52 L674.37 120.25 L674.43 119.99 L674.5 119.72 L674.56 119.46 L674.63 119.19 L674.69 118.93 L674.75 118.66 L674.81 118.39 L674.87 118.13 L674.93 117.86 L674.99 117.6 L675.05 117.33 L675.11 117.07 L675.16 116.8 L675.22 116.53 L675.28 116.27 L675.33 116 L675.38 115.74 L675.44 115.47 L675.49 115.21 L675.54 114.94 L675.59 114.68 L675.65 114.41 L675.7 114.14 L675.75 113.88 L675.79 113.61 L675.84 113.35 L675.89 113.08 L675.94 112.82 L675.99 112.55 L676.03 112.28 L676.08 112.02 L676.12 111.75 L676.17 111.49 L676.21 111.22 L676.25 110.96 L676.3 110.69 L676.34 110.43 L676.38 110.16 L676.42 109.89 L676.46 109.63 L676.5 109.36 L676.54 109.1 L676.58 108.83 L676.62 108.57 L676.66 108.3 L676.7 108.03 L676.73 107.77 L676.77 107.5 L676.81 107.24 L676.84 106.97 L676.88 106.71 L676.91 106.44 L676.95 106.18 L676.98 105.91 L677.02 105.64 L677.05 105.38 L677.08 105.11 L677.12 104.85 L677.15 104.58 L677.18 104.32 L677.21 104.05 L677.24 103.78 L677.27 103.52 L677.3 103.25 L677.33 102.99 L677.36 102.72 L677.39 102.46 L677.42 102.19 L677.45 101.92 L677.48 101.66 L677.51 101.39 L677.53 101.13 L677.56 100.86 L677.59 100.6 L677.61 100.33 L677.64 100.07 L677.67 99.8 L677.69 99.53 L677.72 99.27 L677.74 99 L677.77 98.74 L677.79 98.47 L677.81 98.21 L677.84 97.94 L677.86 97.67 L677.88 97.41 L677.91 97.14 L677.93 96.88 L677.95 96.61 L677.97 96.35 L678 96.08 L678.02 95.82 L678.04 95.55 L678.06 95.28 L678.08 95.02 L678.1 94.75 L678.12 94.49 L678.14 94.22 L678.16 93.96 L678.18 93.69 L678.2 93.43 L678.22 93.16 L678.24 92.89 L678.25 92.63 L678.27 92.36 L678.29 92.1 L678.31 91.83 L678.33 91.57 L678.34 91.3 L678.36 91.03 L678.38 90.77 L678.39 90.5 L678.41 90.24 L678.43 89.97 L678.44 89.71 L678.46 89.44 L678.47 89.18 L678.49 88.91 L678.51 88.64 L678.52 88.38 L678.54 88.11 L678.55 87.85 L678.56 87.58 L678.58 87.32 L678.59 87.05 L678.61 86.78 L678.62 86.52 L678.64 86.25 L678.65 85.99 L678.66 85.72 L678.68 85.46 L678.69 85.19 L678.7 84.93 L678.71 84.66 L678.73 84.39 L678.74 84.13 L678.75 83.86 L678.76 83.6 L678.77 83.33 L678.79 83.07 L678.8 82.8 L678.81 82.53 L678.82 82.27 L678.83 82 L678.84 81.74 L678.85 81.47 L678.87 81.21 L678.88 80.94 L678.89 80.68 L678.9 80.41 L678.91 80.14 L678.92 79.88 L678.93 79.61 L678.94 79.35 L678.95 79.08 L678.96 78.82 L678.97 78.55 L678.98 78.28 L678.98 78.02 L678.99 77.75 L679 77.49 L679.01 77.22 L679.02 76.96 L679.03 76.69 L679.04 76.43 L679.05 76.16 L679.06 75.89 L679.06 75.63 L679.07 75.36 L679.08 75.1 L679.09 74.83 L679.1 74.57 L679.1 74.3 L679.11 74.03 L679.12 73.77 L679.13 73.5 L679.13 73.24 L679.14 72.97 L679.15 72.71 L679.16 72.44 L679.16 72.18 L679.17 71.91 L679.18 71.64 L679.18 71.38 L679.19 71.11 L679.2 70.85 L679.2 70.58 L679.21 70.32 L679.22 70.05 L679.22 69.78 L679.23 69.52 L679.23 69.25 L679.24 68.99 L679.25 68.72 L679.25 68.46 L679.26 68.19 L679.26 67.93 L679.27 67.66 L679.28 67.39 L679.28 67.13 L679.29 66.86 L679.29 66.6 L679.3 66.33 L679.3 66.07 L679.31 65.8 L679.31 65.53 L679.32 65.27 L679.32 65 L679.33 64.74 L679.33 64.47 L679.34 64.21 L679.34 63.94 L679.35 63.68 L679.35 63.41 L679.36 63.14 L679.36 62.88 L679.37 62.61 L679.37 62.35 L679.38 62.08 L679.38 61.82 L679.38 61.55 L679.39 61.28 L679.39 61.02 L679.4 60.75 L679.4 60.49 L679.4 60.22 L679.41 59.96 L679.41 59.69 L679.42 59.43 L679.42 59.16 L679.42 58.89 L679.43 58.63 L679.43 58.36 L679.44 58.1 L679.44 57.83 L679.44 57.57 L679.45 57.3 L679.45 57.03 L679.45 56.77 L679.46 56.5 L679.46 56.24 L679.46 55.97 L679.47 55.71 L679.47 55.44 L679.47 55.18 L679.48 54.91 L679.48 54.64 L679.48 54.38 L679.48 54.11 L679.49 53.85 L679.49 53.58 L679.49 53.32 L679.5 53.05 L679.5 52.78 L679.5 52.52 L679.5 52.25 L679.51 51.99 L679.51 51.72 L679.51 51.46 L679.52 51.19 L679.52 50.93 L679.52 50.66 L679.52 50.39 L679.53 50.13 L679.53 49.86 L679.53 49.6 L679.53 49.33 L679.54 49.07 L679.54 48.8 L679.54 48.53 L679.54 48.27 L679.54 48 L679.55 47.74 L679.55 47.47 L679.55 47.21 L679.55 46.94 L679.56 46.68 L679.56 46.41 L679.56 46.14 L679.56 45.88 L679.56 45.61 L679.57 45.35 L679.57 45.08 L679.57 44.82 L679.57 44.55 L679.57 44.28 L679.58 44.02 L679.58 43.75 L679.58 43.49 L679.58 43.22 L679.58 42.96 L679.58 42.69 L679.59 42.42 L679.59 42.16 L679.59 41.89 L679.59 41.63 L679.59 41.36 L679.59 41.1 L679.6 40.83 L679.6 40.57 L679.6 40.3 L679.6 40.03 L679.6 39.77 L679.6 39.5 L679.61 39.24 L679.61 38.97 L679.61 38.71 L679.61 38.44 L679.61 38.18 L679.61 37.91 L679.61 37.64 L679.62 37.38 L679.62 37.11 L679.62 36.85 L679.62 36.58 L679.62 36.32 L679.62 36.05 L679.62 35.78 L679.63 35.52 L679.63 35.25 L679.63 34.99 L679.63 34.72 L679.63 34.46 L679.63 34.19 L679.63 33.93 L679.63 33.66 L679.63 33.39 L679.64 33.13 L679.64 32.86 L679.64 32.6 L679.64 32.33 L679.64 32.07 L679.64 31.8 L679.64 31.53 L679.64 31.27 L679.64 31 L679.65 30.74 L679.65 30.47 L679.65 30.21 L679.65 29.94 L679.65 29.68 L679.65 29.41 L679.65 29.14 L679.65 28.88 L679.65 28.61 L679.65 28.35 L679.65 28.08 L679.66 27.82 L679.66 27.55 L679.66 27.28 L679.66 27.02 L679.66 26.75 L679.66 26.49 L679.66 26.22 L679.66 25.96 L679.66 25.69 L679.66 25.43 L679.66 25.16 L679.66 24.89 L679.67 24.63 L679.67 24.36 L679.67 24.1 L679.67 23.83 L679.67 23.57 L679.67 23.3 L679.67 23.03 L679.67 22.77 L679.67 22.5 L679.67 22.24 L679.67 21.97 L679.67 21.71 L679.67 21.44 L679.67 21.18 L679.67 20.91 L679.68 20.64 L679.68 20.38 L679.68 20.11 L679.68 19.85 L679.68 19.58 L679.68 19.32 L679.68 19.05 L679.68 18.78 L679.68 18.52 L679.68 18.25 L679.68 17.99 L679.68 17.72 L679.68 17.46 L679.68 17.19 L679.68 16.93 L679.68 16.66 L679.68 16.39 L679.69 16.13 L679.69 15.86 L679.69 15.6 L679.69 15.33 L679.69 15.07 L679.69 14.8 L679.69 14.53 L679.69 14.27 L679.69 14 L679.69 13.74 L679.69 13.47 L679.69 13.21 L679.69 12.94 L679.69 12.68 L679.69 12.41 L679.69 12.14 L679.69 11.88 L679.69 11.61 L679.69 11.35 L679.69 11.08 L679.69 10.82 L679.69 10.55 L679.69 10.28 L679.7 10.02 L679.7 9.75 L679.7 9.49 L679.7 9.22 L679.7 8.96 L679.7 8.69 L679.7 8.43 L679.7 8.16 L679.7 7.89 L679.7 7.63 L679.7 7.36 L679.7 7.1 L679.7 6.83 L679.7 6.57 L679.7 6.3" fill="none" stroke="#dda124" stroke-width="2.1" stroke-dasharray="6.4 2.3 3.0 2.3" stroke-linejoin="round"/>
<path d="M400.3 218.8 L402.74 218.53 L405.19 218.27 L407.63 218 L410.08 217.74 L412.52 217.47 L414.96 217.21 L417.39 216.94 L419.83 216.68 L422.26 216.41 L424.69 216.14 L427.11 215.88 L429.53 215.61 L431.95 215.35 L434.36 215.08 L436.76 214.82 L439.16 214.55 L441.56 214.28 L443.95 214.02 L446.33 213.75 L448.7 213.49 L451.07 213.22 L453.43 212.96 L455.78 212.69 L458.13 212.43 L460.46 212.16 L462.79 211.89 L465.11 211.63 L467.42 211.36 L469.71 211.1 L472 210.83 L474.28 210.57 L476.55 210.3 L478.81 210.03 L481.05 209.77 L483.29 209.5 L485.51 209.24 L487.72 208.97 L489.92 208.71 L492.11 208.44 L494.28 208.18 L496.45 207.91 L498.59 207.64 L500.73 207.38 L502.85 207.11 L504.96 206.85 L507.06 206.58 L509.14 206.32 L511.2 206.05 L513.25 205.78 L515.29 205.52 L517.32 205.25 L519.32 204.99 L521.32 204.72 L523.3 204.46 L525.26 204.19 L527.21 203.93 L529.14 203.66 L531.06 203.39 L532.96 203.13 L534.85 202.86 L536.72 202.6 L538.57 202.33 L540.41 202.07 L542.23 201.8 L544.03 201.53 L545.82 201.27 L547.6 201 L549.36 200.74 L551.1 200.47 L552.82 200.21 L554.53 199.94 L556.22 199.68 L557.9 199.41 L559.55 199.14 L561.2 198.88 L562.82 198.61 L564.43 198.35 L566.02 198.08 L567.6 197.82 L569.16 197.55 L570.7 197.28 L572.23 197.02 L573.74 196.75 L575.24 196.49 L576.71 196.22 L578.18 195.96 L579.62 195.69 L581.05 195.43 L582.47 195.16 L583.86 194.89 L585.24 194.63 L586.61 194.36 L587.96 194.1 L589.29 193.83 L590.61 193.57 L591.92 193.3 L593.2 193.03 L594.47 192.77 L595.73 192.5 L596.97 192.24 L598.2 191.97 L599.41 191.71 L600.6 191.44 L601.78 191.18 L602.95 190.91 L604.1 190.64 L605.24 190.38 L606.36 190.11 L607.47 189.85 L608.56 189.58 L609.64 189.32 L610.71 189.05 L611.76 188.78 L612.8 188.52 L613.82 188.25 L614.83 187.99 L615.83 187.72 L616.81 187.46 L617.78 187.19 L618.74 186.93 L619.68 186.66 L620.61 186.39 L621.53 186.13 L622.44 185.86 L623.33 185.6 L624.21 185.33 L625.08 185.07 L625.94 184.8 L626.78 184.53 L627.61 184.27 L628.43 184 L629.24 183.74 L630.04 183.47 L630.83 183.21 L631.6 182.94 L632.36 182.68 L633.12 182.41 L633.86 182.14 L634.59 181.88 L635.31 181.61 L636.02 181.35 L636.72 181.08 L637.41 180.82 L638.09 180.55 L638.76 180.28 L639.42 180.02 L640.07 179.75 L640.7 179.49 L641.33 179.22 L641.96 178.96 L642.57 178.69 L643.17 178.43 L643.76 178.16 L644.35 177.89 L644.92 177.63 L645.49 177.36 L646.05 177.1 L646.59 176.83 L647.14 176.57 L647.67 176.3 L648.19 176.03 L648.71 175.77 L649.22 175.5 L649.72 175.24 L650.21 174.97 L650.69 174.71 L651.17 174.44 L651.64 174.18 L652.11 173.91 L652.56 173.64 L653.01 173.38 L653.45 173.11 L653.88 172.85 L654.31 172.58 L654.73 172.32 L655.15 172.05 L655.55 171.78 L655.96 171.52 L656.35 171.25 L656.74 170.99 L657.12 170.72 L657.5 170.46 L657.87 170.19 L658.23 169.93 L658.59 169.66 L658.94 169.39 L659.29 169.13 L659.63 168.86 L659.97 168.6 L660.3 168.33 L660.62 168.07 L660.94 167.8 L661.26 167.53 L661.57 167.27 L661.87 167 L662.17 166.74 L662.47 166.47 L662.76 166.21 L663.04 165.94 L663.32 165.68 L663.6 165.41 L663.87 165.14 L664.14 164.88 L664.4 164.61 L664.66 164.35 L664.91 164.08 L665.16 163.82 L665.41 163.55 L665.65 163.28 L665.89 163.02 L666.12 162.75 L666.35 162.49 L666.58 162.22 L666.8 161.96 L667.02 161.69 L667.23 161.43 L667.44 161.16 L667.65 160.89 L667.86 160.63 L668.06 160.36 L668.25 160.1 L668.45 159.83 L668.64 159.57 L668.83 159.3 L669.01 159.03 L669.2 158.77 L669.37 158.5 L669.55 158.24 L669.72 157.97 L669.89 157.71 L670.06 157.44 L670.23 157.18 L670.39 156.91 L670.55 156.64 L670.7 156.38 L670.86 156.11 L671.01 155.85 L671.16 155.58 L671.3 155.32 L671.44 155.05 L671.59 154.78 L671.72 154.52 L671.86 154.25 L672 153.99 L672.13 153.72 L672.26 153.46 L672.38 153.19 L672.51 152.93 L672.63 152.66 L672.75 152.39 L672.87 152.13 L672.99 151.86 L673.1 151.6 L673.22 151.33 L673.33 151.07 L673.44 150.8 L673.55 150.53 L673.65 150.27 L673.76 150 L673.86 149.74 L673.96 149.47 L674.06 149.21 L674.15 148.94 L674.25 148.68 L674.34 148.41 L674.43 148.14 L674.52 147.88 L674.61 147.61 L674.7 147.35 L674.79 147.08 L674.87 146.82 L674.95 146.55 L675.04 146.28 L675.12 146.02 L675.2 145.75 L675.27 145.49 L675.35 145.22 L675.42 144.96 L675.5 144.69 L675.57 144.43 L675.64 144.16 L675.71 143.89 L675.78 143.63 L675.85 143.36 L675.91 143.1 L675.98 142.83 L676.04 142.57 L676.11 142.3 L676.17 142.03 L676.23 141.77 L676.29 141.5 L676.35 141.24 L676.41 140.97 L676.46 140.71 L676.52 140.44 L676.57 140.18 L676.63 139.91 L676.68 139.64 L676.73 139.38 L676.78 139.11 L676.83 138.85 L676.88 138.58 L676.93 138.32 L676.98 138.05 L677.03 137.78 L677.07 137.52 L677.12 137.25 L677.16 136.99 L677.21 136.72 L677.25 136.46 L677.29 136.19 L677.33 135.93 L677.37 135.66 L677.41 135.39 L677.45 135.13 L677.49 134.86 L677.53 134.6 L677.57 134.33 L677.61 134.07 L677.64 133.8 L677.68 133.53 L677.71 133.27 L677.75 133 L677.78 132.74 L677.81 132.47 L677.85 132.21 L677.88 131.94 L677.91 131.68 L677.94 131.41 L677.97 131.14 L678 130.88 L678.03 130.61 L678.06 130.35 L678.09 130.08 L678.12 129.82 L678.14 129.55 L678.17 129.28 L678.2 129.02 L678.22 128.75 L678.25 128.49 L678.27 128.22 L678.3 127.96 L678.32 127.69 L678.35 127.43 L678.37 127.16 L678.39 126.89 L678.42 126.63 L678.44 126.36 L678.46 126.1 L678.48 125.83 L678.5 125.57 L678.52 125.3 L678.54 125.03 L678.56 124.77 L678.58 124.5 L678.6 124.24 L678.62 123.97 L678.64 123.71 L678.66 123.44 L678.68 123.18 L678.69 122.91 L678.71 122.64 L678.73 122.38 L678.75 122.11 L678.76 121.85 L678.78 121.58 L678.79 121.32 L678.81 121.05 L678.83 120.78 L678.84 120.52 L678.86 120.25 L678.87 119.99 L678.88 119.72 L678.9 119.46 L678.91 119.19 L678.93 118.93 L678.94 118.66 L678.95 118.39 L678.97 118.13 L678.98 117.86 L678.99 117.6 L679 117.33 L679.02 117.07 L679.03 116.8 L679.04 116.53 L679.05 116.27 L679.06 116 L679.07 115.74 L679.08 115.47 L679.09 115.21 L679.1 114.94 L679.11 114.68 L679.13 114.41 L679.14 114.14 L679.14 113.88 L679.15 113.61 L679.16 113.35 L679.17 113.08 L679.18 112.82 L679.19 112.55 L679.2 112.28 L679.21 112.02 L679.22 111.75 L679.23 111.49 L679.23 111.22 L679.24 110.96 L679.25 110.69 L679.26 110.43 L679.27 110.16 L679.27 109.89 L679.28 109.63 L679.29 109.36 L679.29 109.1 L679.3 108.83 L679.31 108.57 L679.32 108.3 L679.32 108.03 L679.33 107.77 L679.34 107.5 L679.34 107.24 L679.35 106.97 L679.35 106.71 L679.36 106.44 L679.37 106.18 L679.37 105.91 L679.38 105.64 L679.38 105.38 L679.39 105.11 L679.39 104.85 L679.4 104.58 L679.4 104.32 L679.41 104.05 L679.41 103.78 L679.42 103.52 L679.42 103.25 L679.43 102.99 L679.43 102.72 L679.44 102.46 L679.44 102.19 L679.45 101.92 L679.45 101.66 L679.46 101.39 L679.46 101.13 L679.46 100.86 L679.47 100.6 L679.47 100.33 L679.48 100.07 L679.48 99.8 L679.48 99.53 L679.49 99.27 L679.49 99 L679.5 98.74 L679.5 98.47 L679.5 98.21 L679.51 97.94 L679.51 97.67 L679.51 97.41 L679.52 97.14 L679.52 96.88 L679.52 96.61 L679.53 96.35 L679.53 96.08 L679.53 95.82 L679.53 95.55 L679.54 95.28 L679.54 95.02 L679.54 94.75 L679.55 94.49 L679.55 94.22 L679.55 93.96 L679.55 93.69 L679.56 93.43 L679.56 93.16 L679.56 92.89 L679.56 92.63 L679.57 92.36 L679.57 92.1 L679.57 91.83 L679.57 91.57 L679.57 91.3 L679.58 91.03 L679.58 90.77 L679.58 90.5 L679.58 90.24 L679.59 89.97 L679.59 89.71 L679.59 89.44 L679.59 89.18 L679.59 88.91 L679.6 88.64 L679.6 88.38 L679.6 88.11 L679.6 87.85 L679.6 87.58 L679.6 87.32 L679.61 87.05 L679.61 86.78 L679.61 86.52 L679.61 86.25 L679.61 85.99 L679.61 85.72 L679.61 85.46 L679.62 85.19 L679.62 84.93 L679.62 84.66 L679.62 84.39 L679.62 84.13 L679.62 83.86 L679.62 83.6 L679.63 83.33 L679.63 83.07 L679.63 82.8 L679.63 82.53 L679.63 82.27 L679.63 82 L679.63 81.74 L679.63 81.47 L679.64 81.21 L679.64 80.94 L679.64 80.68 L679.64 80.41 L679.64 80.14 L679.64 79.88 L679.64 79.61 L679.64 79.35 L679.64 79.08 L679.65 78.82 L679.65 78.55 L679.65 78.28 L679.65 78.02 L679.65 77.75 L679.65 77.49 L679.65 77.22 L679.65 76.96 L679.65 76.69 L679.65 76.43 L679.65 76.16 L679.65 75.89 L679.66 75.63 L679.66 75.36 L679.66 75.1 L679.66 74.83 L679.66 74.57 L679.66 74.3 L679.66 74.03 L679.66 73.77 L679.66 73.5 L679.66 73.24 L679.66 72.97 L679.66 72.71 L679.66 72.44 L679.66 72.18 L679.67 71.91 L679.67 71.64 L679.67 71.38 L679.67 71.11 L679.67 70.85 L679.67 70.58 L679.67 70.32 L679.67 70.05 L679.67 69.78 L679.67 69.52 L679.67 69.25 L679.67 68.99 L679.67 68.72 L679.67 68.46 L679.67 68.19 L679.67 67.93 L679.67 67.66 L679.67 67.39 L679.67 67.13 L679.68 66.86 L679.68 66.6 L679.68 66.33 L679.68 66.07 L679.68 65.8 L679.68 65.53 L679.68 65.27 L679.68 65 L679.68 64.74 L679.68 64.47 L679.68 64.21 L679.68 63.94 L679.68 63.68 L679.68 63.41 L679.68 63.14 L679.68 62.88 L679.68 62.61 L679.68 62.35 L679.68 62.08 L679.68 61.82 L679.68 61.55 L679.68 61.28 L679.68 61.02 L679.68 60.75 L679.68 60.49 L679.68 60.22 L679.68 59.96 L679.68 59.69 L679.69 59.43 L679.69 59.16 L679.69 58.89 L679.69 58.63 L679.69 58.36 L679.69 58.1 L679.69 57.83 L679.69 57.57 L679.69 57.3 L679.69 57.03 L679.69 56.77 L679.69 56.5 L679.69 56.24 L679.69 55.97 L679.69 55.71 L679.69 55.44 L679.69 55.18 L679.69 54.91 L679.69 54.64 L679.69 54.38 L679.69 54.11 L679.69 53.85 L679.69 53.58 L679.69 53.32 L679.69 53.05 L679.69 52.78 L679.69 52.52 L679.69 52.25 L679.69 51.99 L679.69 51.72 L679.69 51.46 L679.69 51.19 L679.69 50.93 L679.69 50.66 L679.69 50.39 L679.69 50.13 L679.69 49.86 L679.69 49.6 L679.69 49.33 L679.69 49.07 L679.69 48.8 L679.69 48.53 L679.69 48.27 L679.69 48 L679.69 47.74 L679.69 47.47 L679.69 47.21 L679.69 46.94 L679.69 46.68 L679.69 46.41 L679.69 46.14 L679.69 45.88 L679.69 45.61 L679.69 45.35 L679.69 45.08 L679.69 44.82 L679.69 44.55 L679.69 44.28 L679.69 44.02 L679.69 43.75 L679.7 43.49 L679.7 43.22 L679.7 42.96 L679.7 42.69 L679.7 42.42 L679.7 42.16 L679.7 41.89 L679.7 41.63 L679.7 41.36 L679.7 41.1 L679.7 40.83 L679.7 40.57 L679.7 40.3 L679.7 40.03 L679.7 39.77 L679.7 39.5 L679.7 39.24 L679.7 38.97 L679.7 38.71 L679.7 38.44 L679.7 38.18 L679.7 37.91 L679.7 37.64 L679.7 37.38 L679.7 37.11 L679.7 36.85 L679.7 36.58 L679.7 36.32 L679.7 36.05 L679.7 35.78 L679.7 35.52 L679.7 35.25 L679.7 34.99 L679.7 34.72 L679.7 34.46 L679.7 34.19 L679.7 33.93 L679.7 33.66 L679.7 33.39 L679.7 33.13 L679.7 32.86 L679.7 32.6 L679.7 32.33 L679.7 32.07 L679.7 31.8 L679.7 31.53 L679.7 31.27 L679.7 31 L679.7 30.74 L679.7 30.47 L679.7 30.21 L679.7 29.94 L679.7 29.68 L679.7 29.41 L679.7 29.14 L679.7 28.88 L679.7 28.61 L679.7 28.35 L679.7 28.08 L679.7 27.82 L679.7 27.55 L679.7 27.28 L679.7 27.02 L679.7 26.75 L679.7 26.49 L679.7 26.22 L679.7 25.96 L679.7 25.69 L679.7 25.43 L679.7 25.16 L679.7 24.89 L679.7 24.63 L679.7 24.36 L679.7 24.1 L679.7 23.83 L679.7 23.57 L679.7 23.3 L679.7 23.03 L679.7 22.77 L679.7 22.5 L679.7 22.24 L679.7 21.97 L679.7 21.71 L679.7 21.44 L679.7 21.18 L679.7 20.91 L679.7 20.64 L679.7 20.38 L679.7 20.11 L679.7 19.85 L679.7 19.58 L679.7 19.32 L679.7 19.05 L679.7 18.78 L679.7 18.52 L679.7 18.25 L679.7 17.99 L679.7 17.72 L679.7 17.46 L679.7 17.19 L679.7 16.93 L679.7 16.66 L679.7 16.39 L679.7 16.13 L679.7 15.86 L679.7 15.6 L679.7 15.33 L679.7 15.07 L679.7 14.8 L679.7 14.53 L679.7 14.27 L679.7 14 L679.7 13.74 L679.7 13.47 L679.7 13.21 L679.7 12.94 L679.7 12.68 L679.7 12.41 L679.7 12.14 L679.7 11.88 L679.7 11.61 L679.7 11.35 L679.7 11.08 L679.7 10.82 L679.7 10.55 L679.7 10.28 L679.7 10.02 L679.7 9.75 L679.7 9.49 L679.7 9.22 L679.7 8.96 L679.7 8.69 L679.7 8.43 L679.7 8.16 L679.7 7.89 L679.7 7.63 L679.7 7.36 L679.7 7.1 L679.7 6.83 L679.7 6.57 L679.7 6.3" fill="none" stroke="#33104c" stroke-width="2.1" stroke-dasharray="6.4 2.3 3.0 2.3" stroke-linejoin="round"/>
<path d="M400.3 218.8 L403.44 218.53 L406.59 218.27 L409.73 218 L412.86 217.74 L416 217.47 L419.13 217.21 L422.26 216.94 L425.38 216.68 L428.49 216.41 L431.6 216.14 L434.7 215.88 L437.79 215.61 L440.87 215.35 L443.95 215.08 L447.01 214.82 L450.06 214.55 L453.09 214.28 L456.12 214.02 L459.13 213.75 L462.13 213.49 L465.11 213.22 L468.07 212.96 L471.02 212.69 L473.96 212.43 L476.87 212.16 L479.77 211.89 L482.65 211.63 L485.51 211.36 L488.35 211.1 L491.17 210.83 L493.97 210.57 L496.75 210.3 L499.51 210.03 L502.25 209.77 L504.96 209.5 L507.65 209.24 L510.32 208.97 L512.96 208.71 L515.58 208.44 L518.18 208.18 L520.75 207.91 L523.3 207.64 L525.82 207.38 L528.31 207.11 L530.78 206.85 L533.23 206.58 L535.65 206.32 L538.04 206.05 L540.41 205.78 L542.75 205.52 L545.06 205.25 L547.35 204.99 L549.6 204.72 L551.84 204.46 L554.04 204.19 L556.22 203.93 L558.37 203.66 L560.49 203.39 L562.59 203.13 L564.66 202.86 L566.7 202.6 L568.72 202.33 L570.7 202.07 L572.66 201.8 L574.6 201.53 L576.5 201.27 L578.38 201 L580.24 200.74 L582.06 200.47 L583.86 200.21 L585.64 199.94 L587.38 199.68 L589.1 199.41 L590.8 199.14 L592.47 198.88 L594.11 198.61 L595.73 198.35 L597.32 198.08 L598.89 197.82 L600.43 197.55 L601.95 197.28 L603.45 197.02 L604.92 196.75 L606.36 196.49 L607.78 196.22 L609.18 195.96 L610.56 195.69 L611.91 195.43 L613.24 195.16 L614.54 194.89 L615.83 194.63 L617.09 194.36 L618.33 194.1 L619.55 193.83 L620.74 193.57 L621.92 193.3 L623.08 193.03 L624.21 192.77 L625.32 192.5 L626.42 192.24 L627.49 191.97 L628.55 191.71 L629.58 191.44 L630.6 191.18 L631.6 190.91 L632.58 190.64 L633.54 190.38 L634.49 190.11 L635.41 189.85 L636.32 189.58 L637.21 189.32 L638.09 189.05 L638.95 188.78 L639.79 188.52 L640.61 188.25 L641.42 187.99 L642.22 187.72 L643 187.46 L643.76 187.19 L644.51 186.93 L645.25 186.66 L645.97 186.39 L646.67 186.13 L647.36 185.86 L648.04 185.6 L648.71 185.33 L649.36 185.07 L650 184.8 L650.63 184.53 L651.24 184.27 L651.84 184 L652.43 183.74 L653.01 183.47 L653.57 183.21 L654.13 182.94 L654.67 182.68 L655.21 182.41 L655.73 182.14 L656.24 181.88 L656.74 181.61 L657.23 181.35 L657.71 181.08 L658.18 180.82 L658.64 180.55 L659.09 180.28 L659.53 180.02 L659.97 179.75 L660.39 179.49 L660.81 179.22 L661.21 178.96 L661.61 178.69 L662 178.43 L662.38 178.16 L662.75 177.89 L663.12 177.63 L663.48 177.36 L663.83 177.1 L664.17 176.83 L664.51 176.57 L664.84 176.3 L665.16 176.03 L665.47 175.77 L665.78 175.5 L666.09 175.24 L666.38 174.97 L666.67 174.71 L666.95 174.44 L667.23 174.18 L667.5 173.91 L667.77 173.64 L668.03 173.38 L668.28 173.11 L668.53 172.85 L668.78 172.58 L669.01 172.32 L669.25 172.05 L669.48 171.78 L669.7 171.52 L669.92 171.25 L670.13 170.99 L670.34 170.72 L670.55 170.46 L670.75 170.19 L670.94 169.93 L671.13 169.66 L671.32 169.39 L671.51 169.13 L671.68 168.86 L671.86 168.6 L672.03 168.33 L672.2 168.07 L672.37 167.8 L672.53 167.53 L672.68 167.27 L672.84 167 L672.99 166.74 L673.14 166.47 L673.28 166.21 L673.42 165.94 L673.56 165.68 L673.7 165.41 L673.83 165.14 L673.96 164.88 L674.08 164.61 L674.21 164.35 L674.33 164.08 L674.45 163.82 L674.56 163.55 L674.68 163.28 L674.79 163.02 L674.9 162.75 L675 162.49 L675.1 162.22 L675.21 161.96 L675.31 161.69 L675.4 161.43 L675.5 161.16 L675.59 160.89 L675.68 160.63 L675.77 160.36 L675.86 160.1 L675.94 159.83 L676.02 159.57 L676.11 159.3 L676.19 159.03 L676.26 158.77 L676.34 158.5 L676.41 158.24 L676.49 157.97 L676.56 157.71 L676.63 157.44 L676.69 157.18 L676.76 156.91 L676.83 156.64 L676.89 156.38 L676.95 156.11 L677.01 155.85 L677.07 155.58 L677.13 155.32 L677.19 155.05 L677.24 154.78 L677.3 154.52 L677.35 154.25 L677.4 153.99 L677.45 153.72 L677.5 153.46 L677.55 153.19 L677.6 152.93 L677.65 152.66 L677.69 152.39 L677.74 152.13 L677.78 151.86 L677.82 151.6 L677.86 151.33 L677.9 151.07 L677.94 150.8 L677.98 150.53 L678.02 150.27 L678.06 150 L678.1 149.74 L678.13 149.47 L678.17 149.21 L678.2 148.94 L678.23 148.68 L678.27 148.41 L678.3 148.14 L678.33 147.88 L678.36 147.61 L678.39 147.35 L678.42 147.08 L678.45 146.82 L678.47 146.55 L678.5 146.28 L678.53 146.02 L678.55 145.75 L678.58 145.49 L678.6 145.22 L678.63 144.96 L678.65 144.69 L678.68 144.43 L678.7 144.16 L678.72 143.89 L678.74 143.63 L678.76 143.36 L678.78 143.1 L678.8 142.83 L678.82 142.57 L678.84 142.3 L678.86 142.03 L678.88 141.77 L678.9 141.5 L678.92 141.24 L678.94 140.97 L678.95 140.71 L678.97 140.44 L678.99 140.18 L679 139.91 L679.02 139.64 L679.03 139.38 L679.05 139.11 L679.06 138.85 L679.08 138.58 L679.09 138.32 L679.1 138.05 L679.12 137.78 L679.13 137.52 L679.14 137.25 L679.15 136.99 L679.17 136.72 L679.18 136.46 L679.19 136.19 L679.2 135.93 L679.21 135.66 L679.22 135.39 L679.23 135.13 L679.24 134.86 L679.25 134.6 L679.26 134.33 L679.27 134.07 L679.28 133.8 L679.29 133.53 L679.3 133.27 L679.31 133 L679.32 132.74 L679.33 132.47 L679.34 132.21 L679.34 131.94 L679.35 131.68 L679.36 131.41 L679.37 131.14 L679.37 130.88 L679.38 130.61 L679.39 130.35 L679.4 130.08 L679.4 129.82 L679.41 129.55 L679.42 129.28 L679.42 129.02 L679.43 128.75 L679.43 128.49 L679.44 128.22 L679.45 127.96 L679.45 127.69 L679.46 127.43 L679.46 127.16 L679.47 126.89 L679.47 126.63 L679.48 126.36 L679.48 126.1 L679.49 125.83 L679.49 125.57 L679.5 125.3 L679.5 125.03 L679.51 124.77 L679.51 124.5 L679.51 124.24 L679.52 123.97 L679.52 123.71 L679.53 123.44 L679.53 123.18 L679.53 122.91 L679.54 122.64 L679.54 122.38 L679.55 122.11 L679.55 121.85 L679.55 121.58 L679.56 121.32 L679.56 121.05 L679.56 120.78 L679.56 120.52 L679.57 120.25 L679.57 119.99 L679.57 119.72 L679.58 119.46 L679.58 119.19 L679.58 118.93 L679.58 118.66 L679.59 118.39 L679.59 118.13 L679.59 117.86 L679.59 117.6 L679.6 117.33 L679.6 117.07 L679.6 116.8 L679.6 116.53 L679.61 116.27 L679.61 116 L679.61 115.74 L679.61 115.47 L679.61 115.21 L679.62 114.94 L679.62 114.68 L679.62 114.41 L679.62 114.14 L679.62 113.88 L679.62 113.61 L679.63 113.35 L679.63 113.08 L679.63 112.82 L679.63 112.55 L679.63 112.28 L679.63 112.02 L679.64 111.75 L679.64 111.49 L679.64 111.22 L679.64 110.96 L679.64 110.69 L679.64 110.43 L679.64 110.16 L679.64 109.89 L679.65 109.63 L679.65 109.36 L679.65 109.1 L679.65 108.83 L679.65 108.57 L679.65 108.3 L679.65 108.03 L679.65 107.77 L679.66 107.5 L679.66 107.24 L679.66 106.97 L679.66 106.71 L679.66 106.44 L679.66 106.18 L679.66 105.91 L679.66 105.64 L679.66 105.38 L679.66 105.11 L679.66 104.85 L679.66 104.58 L679.67 104.32 L679.67 104.05 L679.67 103.78 L679.67 103.52 L679.67 103.25 L679.67 102.99 L679.67 102.72 L679.67 102.46 L679.67 102.19 L679.67 101.92 L679.67 101.66 L679.67 101.39 L679.67 101.13 L679.67 100.86 L679.67 100.6 L679.68 100.33 L679.68 100.07 L679.68 99.8 L679.68 99.53 L679.68 99.27 L679.68 99 L679.68 98.74 L679.68 98.47 L679.68 98.21 L679.68 97.94 L679.68 97.67 L679.68 97.41 L679.68 97.14 L679.68 96.88 L679.68 96.61 L679.68 96.35 L679.68 96.08 L679.68 95.82 L679.68 95.55 L679.68 95.28 L679.68 95.02 L679.68 94.75 L679.69 94.49 L679.69 94.22 L679.69 93.96 L679.69 93.69 L679.69 93.43 L679.69 93.16 L679.69 92.89 L679.69 92.63 L679.69 92.36 L679.69 92.1 L679.69 91.83 L679.69 91.57 L679.69 91.3 L679.69 91.03 L679.69 90.77 L679.69 90.5 L679.69 90.24 L679.69 89.97 L679.69 89.71 L679.69 89.44 L679.69 89.18 L679.69 88.91 L679.69 88.64 L679.69 88.38 L679.69 88.11 L679.69 87.85 L679.69 87.58 L679.69 87.32 L679.69 87.05 L679.69 86.78 L679.69 86.52 L679.69 86.25 L679.69 85.99 L679.69 85.72 L679.69 85.46 L679.69 85.19 L679.69 84.93 L679.69 84.66 L679.69 84.39 L679.69 84.13 L679.69 83.86 L679.69 83.6 L679.69 83.33 L679.69 83.07 L679.69 82.8 L679.69 82.53 L679.69 82.27 L679.69 82 L679.69 81.74 L679.7 81.47 L679.7 81.21 L679.7 80.94 L679.7 80.68 L679.7 80.41 L679.7 80.14 L679.7 79.88 L679.7 79.61 L679.7 79.35 L679.7 79.08 L679.7 78.82 L679.7 78.55 L679.7 78.28 L679.7 78.02 L679.7 77.75 L679.7 77.49 L679.7 77.22 L679.7 76.96 L679.7 76.69 L679.7 76.43 L679.7 76.16 L679.7 75.89 L679.7 75.63 L679.7 75.36 L679.7 75.1 L679.7 74.83 L679.7 74.57 L679.7 74.3 L679.7 74.03 L679.7 73.77 L679.7 73.5 L679.7 73.24 L679.7 72.97 L679.7 72.71 L679.7 72.44 L679.7 72.18 L679.7 71.91 L679.7 71.64 L679.7 71.38 L679.7 71.11 L679.7 70.85 L679.7 70.58 L679.7 70.32 L679.7 70.05 L679.7 69.78 L679.7 69.52 L679.7 69.25 L679.7 68.99 L679.7 68.72 L679.7 68.46 L679.7 68.19 L679.7 67.93 L679.7 67.66 L679.7 67.39 L679.7 67.13 L679.7 66.86 L679.7 66.6 L679.7 66.33 L679.7 66.07 L679.7 65.8 L679.7 65.53 L679.7 65.27 L679.7 65 L679.7 64.74 L679.7 64.47 L679.7 64.21 L679.7 63.94 L679.7 63.68 L679.7 63.41 L679.7 63.14 L679.7 62.88 L679.7 62.61 L679.7 62.35 L679.7 62.08 L679.7 61.82 L679.7 61.55 L679.7 61.28 L679.7 61.02 L679.7 60.75 L679.7 60.49 L679.7 60.22 L679.7 59.96 L679.7 59.69 L679.7 59.43 L679.7 59.16 L679.7 58.89 L679.7 58.63 L679.7 58.36 L679.7 58.1 L679.7 57.83 L679.7 57.57 L679.7 57.3 L679.7 57.03 L679.7 56.77 L679.7 56.5 L679.7 56.24 L679.7 55.97 L679.7 55.71 L679.7 55.44 L679.7 55.18 L679.7 54.91 L679.7 54.64 L679.7 54.38 L679.7 54.11 L679.7 53.85 L679.7 53.58 L679.7 53.32 L679.7 53.05 L679.7 52.78 L679.7 52.52 L679.7 52.25 L679.7 51.99 L679.7 51.72 L679.7 51.46 L679.7 51.19 L679.7 50.93 L679.7 50.66 L679.7 50.39 L679.7 50.13 L679.7 49.86 L679.7 49.6 L679.7 49.33 L679.7 49.07 L679.7 48.8 L679.7 48.53 L679.7 48.27 L679.7 48 L679.7 47.74 L679.7 47.47 L679.7 47.21 L679.7 46.94 L679.7 46.68 L679.7 46.41 L679.7 46.14 L679.7 45.88 L679.7 45.61 L679.7 45.35 L679.7 45.08 L679.7 44.82 L679.7 44.55 L679.7 44.28 L679.7 44.02 L679.7 43.75 L679.7 43.49 L679.7 43.22 L679.7 42.96 L679.7 42.69 L679.7 42.42 L679.7 42.16 L679.7 41.89 L679.7 41.63 L679.7 41.36 L679.7 41.1 L679.7 40.83 L679.7 40.57 L679.7 40.3 L679.7 40.03 L679.7 39.77 L679.7 39.5 L679.7 39.24 L679.7 38.97 L679.7 38.71 L679.7 38.44 L679.7 38.18 L679.7 37.91 L679.7 37.64 L679.7 37.38 L679.7 37.11 L679.7 36.85 L679.7 36.58 L679.7 36.32 L679.7 36.05 L679.7 35.78 L679.7 35.52 L679.7 35.25 L679.7 34.99 L679.7 34.72 L679.7 34.46 L679.7 34.19 L679.7 33.93 L679.7 33.66 L679.7 33.39 L679.7 33.13 L679.7 32.86 L679.7 32.6 L679.7 32.33 L679.7 32.07 L679.7 31.8 L679.7 31.53 L679.7 31.27 L679.7 31 L679.7 30.74 L679.7 30.47 L679.7 30.21 L679.7 29.94 L679.7 29.68 L679.7 29.41 L679.7 29.14 L679.7 28.88 L679.7 28.61 L679.7 28.35 L679.7 28.08 L679.7 27.82 L679.7 27.55 L679.7 27.28 L679.7 27.02 L679.7 26.75 L679.7 26.49 L679.7 26.22 L679.7 25.96 L679.7 25.69 L679.7 25.43 L679.7 25.16 L679.7 24.89 L679.7 24.63 L679.7 24.36 L679.7 24.1 L679.7 23.83 L679.7 23.57 L679.7 23.3 L679.7 23.03 L679.7 22.77 L679.7 22.5 L679.7 22.24 L679.7 21.97 L679.7 21.71 L679.7 21.44 L679.7 21.18 L679.7 20.91 L679.7 20.64 L679.7 20.38 L679.7 20.11 L679.7 19.85 L679.7 19.58 L679.7 19.32 L679.7 19.05 L679.7 18.78 L679.7 18.52 L679.7 18.25 L679.7 17.99 L679.7 17.72 L679.7 17.46 L679.7 17.19 L679.7 16.93 L679.7 16.66 L679.7 16.39 L679.7 16.13 L679.7 15.86 L679.7 15.6 L679.7 15.33 L679.7 15.07 L679.7 14.8 L679.7 14.53 L679.7 14.27 L679.7 14 L679.7 13.74 L679.7 13.47 L679.7 13.21 L679.7 12.94 L679.7 12.68 L679.7 12.41 L679.7 12.14 L679.7 11.88 L679.7 11.61 L679.7 11.35 L679.7 11.08 L679.7 10.82 L679.7 10.55 L679.7 10.28 L679.7 10.02 L679.7 9.75 L679.7 9.49 L679.7 9.22 L679.7 8.96 L679.7 8.69 L679.7 8.43 L679.7 8.16 L679.7 7.89 L679.7 7.63 L679.7 7.36 L679.7 7.1 L679.7 6.83 L679.7 6.57 L679.7 6.3" fill="none" stroke="#4e8a1f" stroke-width="2.1" stroke-dasharray="6.4 2.3 3.0 2.3" stroke-linejoin="round"/>
<path d="M400.3 218.8 L404.14 218.53 L407.98 218.27 L411.82 218 L415.65 217.74 L419.48 217.47 L423.3 217.21 L427.11 216.94 L430.91 216.68 L434.7 216.41 L438.48 216.14 L442.24 215.88 L445.99 215.61 L449.72 215.35 L453.43 215.08 L457.12 214.82 L460.8 214.55 L464.45 214.28 L468.07 214.02 L471.68 213.75 L475.25 213.49 L478.81 213.22 L482.33 212.96 L485.83 212.69 L489.29 212.43 L492.73 212.16 L496.14 211.89 L499.51 211.63 L502.85 211.36 L506.16 211.1 L509.43 210.83 L512.67 210.57 L515.87 210.3 L519.04 210.03 L522.17 209.77 L525.26 209.5 L528.31 209.24 L531.33 208.97 L534.31 208.71 L537.25 208.44 L540.15 208.18 L543 207.91 L545.82 207.64 L548.6 207.38 L551.34 207.11 L554.04 206.85 L556.7 206.58 L559.32 206.32 L561.89 206.05 L564.43 205.78 L566.93 205.52 L569.38 205.25 L571.8 204.99 L574.17 204.72 L576.5 204.46 L578.8 204.19 L581.05 203.93 L583.27 203.66 L585.44 203.39 L587.58 203.13 L589.67 202.86 L591.73 202.6 L593.75 202.33 L595.73 202.07 L597.67 201.8 L599.58 201.53 L601.45 201.27 L603.28 201 L605.08 200.74 L606.84 200.47 L608.56 200.21 L610.25 199.94 L611.91 199.68 L613.53 199.41 L615.12 199.14 L616.67 198.88 L618.19 198.61 L619.68 198.35 L621.14 198.08 L622.56 197.82 L623.96 197.55 L625.32 197.28 L626.66 197.02 L627.96 196.75 L629.24 196.49 L630.49 196.22 L631.71 195.96 L632.9 195.69 L634.07 195.43 L635.21 195.16 L636.32 194.89 L637.41 194.63 L638.47 194.36 L639.51 194.1 L640.52 193.83 L641.51 193.57 L642.48 193.3 L643.42 193.03 L644.35 192.77 L645.25 192.5 L646.12 192.24 L646.98 191.97 L647.82 191.71 L648.63 191.44 L649.43 191.18 L650.21 190.91 L650.97 190.64 L651.71 190.38 L652.43 190.11 L653.14 189.85 L653.82 189.58 L654.49 189.32 L655.15 189.05 L655.78 188.78 L656.41 188.52 L657.01 188.25 L657.6 187.99 L658.18 187.72 L658.74 187.46 L659.29 187.19 L659.82 186.93 L660.34 186.66 L660.85 186.39 L661.35 186.13 L661.83 185.86 L662.3 185.6 L662.75 185.33 L663.2 185.07 L663.64 184.8 L664.06 184.53 L664.47 184.27 L664.87 184 L665.27 183.74 L665.65 183.47 L666.02 183.21 L666.38 182.94 L666.73 182.68 L667.08 182.41 L667.41 182.14 L667.74 181.88 L668.06 181.61 L668.37 181.35 L668.67 181.08 L668.96 180.82 L669.25 180.55 L669.53 180.28 L669.8 180.02 L670.06 179.75 L670.32 179.49 L670.57 179.22 L670.81 178.96 L671.05 178.69 L671.28 178.43 L671.51 178.16 L671.72 177.89 L671.94 177.63 L672.15 177.36 L672.35 177.1 L672.54 176.83 L672.74 176.57 L672.92 176.3 L673.1 176.03 L673.28 175.77 L673.45 175.5 L673.62 175.24 L673.78 174.97 L673.94 174.71 L674.1 174.44 L674.25 174.18 L674.39 173.91 L674.54 173.64 L674.68 173.38 L674.81 173.11 L674.94 172.85 L675.07 172.58 L675.19 172.32 L675.32 172.05 L675.43 171.78 L675.55 171.52 L675.66 171.25 L675.77 170.99 L675.88 170.72 L675.98 170.46 L676.08 170.19 L676.18 169.93 L676.27 169.66 L676.36 169.39 L676.45 169.13 L676.54 168.86 L676.63 168.6 L676.71 168.33 L676.79 168.07 L676.87 167.8 L676.95 167.53 L677.02 167.27 L677.09 167 L677.16 166.74 L677.23 166.47 L677.3 166.21 L677.36 165.94 L677.43 165.68 L677.49 165.41 L677.55 165.14 L677.61 164.88 L677.66 164.61 L677.72 164.35 L677.77 164.08 L677.82 163.82 L677.87 163.55 L677.92 163.28 L677.97 163.02 L678.02 162.75 L678.06 162.49 L678.11 162.22 L678.15 161.96 L678.19 161.69 L678.23 161.43 L678.27 161.16 L678.31 160.89 L678.35 160.63 L678.39 160.36 L678.42 160.1 L678.46 159.83 L678.49 159.57 L678.52 159.3 L678.55 159.03 L678.59 158.77 L678.62 158.5 L678.64 158.24 L678.67 157.97 L678.7 157.71 L678.73 157.44 L678.75 157.18 L678.78 156.91 L678.8 156.64 L678.83 156.38 L678.85 156.11 L678.88 155.85 L678.9 155.58 L678.92 155.32 L678.94 155.05 L678.96 154.78 L678.98 154.52 L679 154.25 L679.02 153.99 L679.04 153.72 L679.06 153.46 L679.07 153.19 L679.09 152.93 L679.11 152.66 L679.12 152.39 L679.14 152.13 L679.15 151.86 L679.17 151.6 L679.18 151.33 L679.2 151.07 L679.21 150.8 L679.22 150.53 L679.24 150.27 L679.25 150 L679.26 149.74 L679.27 149.47 L679.29 149.21 L679.3 148.94 L679.31 148.68 L679.32 148.41 L679.33 148.14 L679.34 147.88 L679.35 147.61 L679.36 147.35 L679.37 147.08 L679.38 146.82 L679.38 146.55 L679.39 146.28 L679.4 146.02 L679.41 145.75 L679.42 145.49 L679.43 145.22 L679.43 144.96 L679.44 144.69 L679.45 144.43 L679.45 144.16 L679.46 143.89 L679.47 143.63 L679.47 143.36 L679.48 143.1 L679.49 142.83 L679.49 142.57 L679.5 142.3 L679.5 142.03 L679.51 141.77 L679.51 141.5 L679.52 141.24 L679.52 140.97 L679.53 140.71 L679.53 140.44 L679.54 140.18 L679.54 139.91 L679.55 139.64 L679.55 139.38 L679.55 139.11 L679.56 138.85 L679.56 138.58 L679.57 138.32 L679.57 138.05 L679.57 137.78 L679.58 137.52 L679.58 137.25 L679.58 136.99 L679.59 136.72 L679.59 136.46 L679.59 136.19 L679.6 135.93 L679.6 135.66 L679.6 135.39 L679.6 135.13 L679.61 134.86 L679.61 134.6 L679.61 134.33 L679.61 134.07 L679.62 133.8 L679.62 133.53 L679.62 133.27 L679.62 133 L679.62 132.74 L679.63 132.47 L679.63 132.21 L679.63 131.94 L679.63 131.68 L679.63 131.41 L679.64 131.14 L679.64 130.88 L679.64 130.61 L679.64 130.35 L679.64 130.08 L679.64 129.82 L679.65 129.55 L679.65 129.28 L679.65 129.02 L679.65 128.75 L679.65 128.49 L679.65 128.22 L679.65 127.96 L679.66 127.69 L679.66 127.43 L679.66 127.16 L679.66 126.89 L679.66 126.63 L679.66 126.36 L679.66 126.1 L679.66 125.83 L679.66 125.57 L679.67 125.3 L679.67 125.03 L679.67 124.77 L679.67 124.5 L679.67 124.24 L679.67 123.97 L679.67 123.71 L679.67 123.44 L679.67 123.18 L679.67 122.91 L679.67 122.64 L679.67 122.38 L679.67 122.11 L679.68 121.85 L679.68 121.58 L679.68 121.32 L679.68 121.05 L679.68 120.78 L679.68 120.52 L679.68 120.25 L679.68 119.99 L679.68 119.72 L679.68 119.46 L679.68 119.19 L679.68 118.93 L679.68 118.66 L679.68 118.39 L679.68 118.13 L679.68 117.86 L679.68 117.6 L679.68 117.33 L679.69 117.07 L679.69 116.8 L679.69 116.53 L679.69 116.27 L679.69 116 L679.69 115.74 L679.69 115.47 L679.69 115.21 L679.69 114.94 L679.69 114.68 L679.69 114.41 L679.69 114.14 L679.69 113.88 L679.69 113.61 L679.69 113.35 L679.69 113.08 L679.69 112.82 L679.69 112.55 L679.69 112.28 L679.69 112.02 L679.69 111.75 L679.69 111.49 L679.69 111.22 L679.69 110.96 L679.69 110.69 L679.69 110.43 L679.69 110.16 L679.69 109.89 L679.69 109.63 L679.69 109.36 L679.69 109.1 L679.69 108.83 L679.69 108.57 L679.69 108.3 L679.69 108.03 L679.69 107.77 L679.69 107.5 L679.69 107.24 L679.69 106.97 L679.69 106.71 L679.7 106.44 L679.7 106.18 L679.7 105.91 L679.7 105.64 L679.7 105.38 L679.7 105.11 L679.7 104.85 L679.7 104.58 L679.7 104.32 L679.7 104.05 L679.7 103.78 L679.7 103.52 L679.7 103.25 L679.7 102.99 L679.7 102.72 L679.7 102.46 L679.7 102.19 L679.7 101.92 L679.7 101.66 L679.7 101.39 L679.7 101.13 L679.7 100.86 L679.7 100.6 L679.7 100.33 L679.7 100.07 L679.7 99.8 L679.7 99.53 L679.7 99.27 L679.7 99 L679.7 98.74 L679.7 98.47 L679.7 98.21 L679.7 97.94 L679.7 97.67 L679.7 97.41 L679.7 97.14 L679.7 96.88 L679.7 96.61 L679.7 96.35 L679.7 96.08 L679.7 95.82 L679.7 95.55 L679.7 95.28 L679.7 95.02 L679.7 94.75 L679.7 94.49 L679.7 94.22 L679.7 93.96 L679.7 93.69 L679.7 93.43 L679.7 93.16 L679.7 92.89 L679.7 92.63 L679.7 92.36 L679.7 92.1 L679.7 91.83 L679.7 91.57 L679.7 91.3 L679.7 91.03 L679.7 90.77 L679.7 90.5 L679.7 90.24 L679.7 89.97 L679.7 89.71 L679.7 89.44 L679.7 89.18 L679.7 88.91 L679.7 88.64 L679.7 88.38 L679.7 88.11 L679.7 87.85 L679.7 87.58 L679.7 87.32 L679.7 87.05 L679.7 86.78 L679.7 86.52 L679.7 86.25 L679.7 85.99 L679.7 85.72 L679.7 85.46 L679.7 85.19 L679.7 84.93 L679.7 84.66 L679.7 84.39 L679.7 84.13 L679.7 83.86 L679.7 83.6 L679.7 83.33 L679.7 83.07 L679.7 82.8 L679.7 82.53 L679.7 82.27 L679.7 82 L679.7 81.74 L679.7 81.47 L679.7 81.21 L679.7 80.94 L679.7 80.68 L679.7 80.41 L679.7 80.14 L679.7 79.88 L679.7 79.61 L679.7 79.35 L679.7 79.08 L679.7 78.82 L679.7 78.55 L679.7 78.28 L679.7 78.02 L679.7 77.75 L679.7 77.49 L679.7 77.22 L679.7 76.96 L679.7 76.69 L679.7 76.43 L679.7 76.16 L679.7 75.89 L679.7 75.63 L679.7 75.36 L679.7 75.1 L679.7 74.83 L679.7 74.57 L679.7 74.3 L679.7 74.03 L679.7 73.77 L679.7 73.5 L679.7 73.24 L679.7 72.97 L679.7 72.71 L679.7 72.44 L679.7 72.18 L679.7 71.91 L679.7 71.64 L679.7 71.38 L679.7 71.11 L679.7 70.85 L679.7 70.58 L679.7 70.32 L679.7 70.05 L679.7 69.78 L679.7 69.52 L679.7 69.25 L679.7 68.99 L679.7 68.72 L679.7 68.46 L679.7 68.19 L679.7 67.93 L679.7 67.66 L679.7 67.39 L679.7 67.13 L679.7 66.86 L679.7 66.6 L679.7 66.33 L679.7 66.07 L679.7 65.8 L679.7 65.53 L679.7 65.27 L679.7 65 L679.7 64.74 L679.7 64.47 L679.7 64.21 L679.7 63.94 L679.7 63.68 L679.7 63.41 L679.7 63.14 L679.7 62.88 L679.7 62.61 L679.7 62.35 L679.7 62.08 L679.7 61.82 L679.7 61.55 L679.7 61.28 L679.7 61.02 L679.7 60.75 L679.7 60.49 L679.7 60.22 L679.7 59.96 L679.7 59.69 L679.7 59.43 L679.7 59.16 L679.7 58.89 L679.7 58.63 L679.7 58.36 L679.7 58.1 L679.7 57.83 L679.7 57.57 L679.7 57.3 L679.7 57.03 L679.7 56.77 L679.7 56.5 L679.7 56.24 L679.7 55.97 L679.7 55.71 L679.7 55.44 L679.7 55.18 L679.7 54.91 L679.7 54.64 L679.7 54.38 L679.7 54.11 L679.7 53.85 L679.7 53.58 L679.7 53.32 L679.7 53.05 L679.7 52.78 L679.7 52.52 L679.7 52.25 L679.7 51.99 L679.7 51.72 L679.7 51.46 L679.7 51.19 L679.7 50.93 L679.7 50.66 L679.7 50.39 L679.7 50.13 L679.7 49.86 L679.7 49.6 L679.7 49.33 L679.7 49.07 L679.7 48.8 L679.7 48.53 L679.7 48.27 L679.7 48 L679.7 47.74 L679.7 47.47 L679.7 47.21 L679.7 46.94 L679.7 46.68 L679.7 46.41 L679.7 46.14 L679.7 45.88 L679.7 45.61 L679.7 45.35 L679.7 45.08 L679.7 44.82 L679.7 44.55 L679.7 44.28 L679.7 44.02 L679.7 43.75 L679.7 43.49 L679.7 43.22 L679.7 42.96 L679.7 42.69 L679.7 42.42 L679.7 42.16 L679.7 41.89 L679.7 41.63 L679.7 41.36 L679.7 41.1 L679.7 40.83 L679.7 40.57 L679.7 40.3 L679.7 40.03 L679.7 39.77 L679.7 39.5 L679.7 39.24 L679.7 38.97 L679.7 38.71 L679.7 38.44 L679.7 38.18 L679.7 37.91 L679.7 37.64 L679.7 37.38 L679.7 37.11 L679.7 36.85 L679.7 36.58 L679.7 36.32 L679.7 36.05 L679.7 35.78 L679.7 35.52 L679.7 35.25 L679.7 34.99 L679.7 34.72 L679.7 34.46 L679.7 34.19 L679.7 33.93 L679.7 33.66 L679.7 33.39 L679.7 33.13 L679.7 32.86 L679.7 32.6 L679.7 32.33 L679.7 32.07 L679.7 31.8 L679.7 31.53 L679.7 31.27 L679.7 31 L679.7 30.74 L679.7 30.47 L679.7 30.21 L679.7 29.94 L679.7 29.68 L679.7 29.41 L679.7 29.14 L679.7 28.88 L679.7 28.61 L679.7 28.35 L679.7 28.08 L679.7 27.82 L679.7 27.55 L679.7 27.28 L679.7 27.02 L679.7 26.75 L679.7 26.49 L679.7 26.22 L679.7 25.96 L679.7 25.69 L679.7 25.43 L679.7 25.16 L679.7 24.89 L679.7 24.63 L679.7 24.36 L679.7 24.1 L679.7 23.83 L679.7 23.57 L679.7 23.3 L679.7 23.03 L679.7 22.77 L679.7 22.5 L679.7 22.24 L679.7 21.97 L679.7 21.71 L679.7 21.44 L679.7 21.18 L679.7 20.91 L679.7 20.64 L679.7 20.38 L679.7 20.11 L679.7 19.85 L679.7 19.58 L679.7 19.32 L679.7 19.05 L679.7 18.78 L679.7 18.52 L679.7 18.25 L679.7 17.99 L679.7 17.72 L679.7 17.46 L679.7 17.19 L679.7 16.93 L679.7 16.66 L679.7 16.39 L679.7 16.13 L679.7 15.86 L679.7 15.6 L679.7 15.33 L679.7 15.07 L679.7 14.8 L679.7 14.53 L679.7 14.27 L679.7 14 L679.7 13.74 L679.7 13.47 L679.7 13.21 L679.7 12.94 L679.7 12.68 L679.7 12.41 L679.7 12.14 L679.7 11.88 L679.7 11.61 L679.7 11.35 L679.7 11.08 L679.7 10.82 L679.7 10.55 L679.7 10.28 L679.7 10.02 L679.7 9.75 L679.7 9.49 L679.7 9.22 L679.7 8.96 L679.7 8.69 L679.7 8.43 L679.7 8.16 L679.7 7.89 L679.7 7.63 L679.7 7.36 L679.7 7.1 L679.7 6.83 L679.7 6.57 L679.7 6.3" fill="none" stroke="#40a7d8" stroke-width="2.1" stroke-dasharray="6.4 2.3 3.0 2.3" stroke-linejoin="round"/>
<g font-family="'Liberation Sans', Arial, Helvetica, sans-serif" font-weight="bold" font-size="9.4" fill="#1a1a1a" stroke="#1a1a1a" stroke-width="0.2">
<text x="33.2" y="232.3" text-anchor="middle">0</text>
<text x="29.8" y="223.1" text-anchor="end">0</text>
<text x="89.16" y="232.3" text-anchor="middle">0.2</text>
<text x="29.8" y="180.5" text-anchor="end">0.2</text>
<text x="145.12" y="232.3" text-anchor="middle">0.4</text>
<text x="29.8" y="137.9" text-anchor="end">0.4</text>
<text x="201.08" y="232.3" text-anchor="middle">0.6</text>
<text x="29.8" y="95.3" text-anchor="end">0.6</text>
<text x="257.04" y="232.3" text-anchor="middle">0.8</text>
<text x="29.8" y="52.7" text-anchor="end">0.8</text>
<text x="313" y="232.3" text-anchor="middle">1</text>
<text x="29.8" y="10.1" text-anchor="end">1</text>
<text x="400.3" y="231.8" text-anchor="middle">0</text>
<text x="396.9" y="222.6" text-anchor="end">0</text>
<text x="456.18" y="231.8" text-anchor="middle">0.2</text>
<text x="396.9" y="180.1" text-anchor="end">0.2</text>
<text x="512.06" y="231.8" text-anchor="middle">0.4</text>
<text x="396.9" y="137.6" text-anchor="end">0.4</text>
<text x="567.94" y="231.8" text-anchor="middle">0.6</text>
<text x="396.9" y="95.1" text-anchor="end">0.6</text>
<text x="623.82" y="231.8" text-anchor="middle">0.8</text>
<text x="396.9" y="52.6" text-anchor="end">0.8</text>
<text x="679.7" y="231.8" text-anchor="middle">1</text>
<text x="396.9" y="10.1" text-anchor="end">1</text>
</g>
<g font-family="'Liberation Sans', Arial, Helvetica, sans-serif" font-weight="bold" font-size="10.2" fill="#1a1a1a" stroke="#1a1a1a" stroke-width="0.2">
<text x="173.1" y="245.5" text-anchor="middle">Normalized Input (w<tspan font-size="7" dy="4.6">z</tspan><tspan dy="-4.6">)</tspan></text>
<text x="540" y="245.5" text-anchor="middle">Normalized Companded Input (v<tspan font-size="7" dy="4.6">c</tspan><tspan dy="-4.6">)</tspan></text>
<text transform="translate(8.7 112.8) rotate(-90)" text-anchor="middle">Normalized Companded Output (w<tspan font-size="7" dy="4.6">c</tspan><tspan dy="-4.6">)</tspan></text>
<text transform="translate(379.4 112.55) rotate(-90)" text-anchor="middle">Normalized Expanded Output (v)</text>
</g>
<g font-family="'Liberation Sans', Arial, Helvetica, sans-serif" font-weight="bold" font-size="8.5" fill="#1a1a1a">
<rect x="266" y="146.8" width="42" height="69.6" fill="#fff"/>
<line x1="266" y1="146.8" x2="266" y2="216.4" stroke="#c2c2c2" stroke-width="1.2"/>
<line x1="266" y1="146.8" x2="308" y2="146.8" stroke="#f4f4f4" stroke-width="1"/>
<line x1="308" y1="146.8" x2="308" y2="216.4" stroke="#e6e6e6" stroke-width="1"/>
<line x1="266" y1="216.4" x2="308" y2="216.4" stroke="#c8c8c8" stroke-width="1.2"/>
<line x1="268" y1="154.7" x2="281" y2="154.7" stroke="#0e2766" stroke-width="2.0"/>
<text x="282.3" y="157.7" textLength="17.6" lengthAdjust="spacingAndGlyphs">T = 1</text>
<line x1="268" y1="166" x2="281" y2="166" stroke="#9e2616" stroke-width="2.0"/>
<text x="282.3" y="169" textLength="17.6" lengthAdjust="spacingAndGlyphs">T = 3</text>
<line x1="268" y1="177.3" x2="281" y2="177.3" stroke="#dda124" stroke-width="2.0"/>
<text x="282.3" y="180.3" textLength="17.6" lengthAdjust="spacingAndGlyphs">T = 5</text>
<line x1="268" y1="188.6" x2="281" y2="188.6" stroke="#33104c" stroke-width="2.0"/>
<text x="282.3" y="191.6" textLength="17.6" lengthAdjust="spacingAndGlyphs">T = 7</text>
<line x1="268" y1="199.9" x2="281" y2="199.9" stroke="#4e8a1f" stroke-width="2.0"/>
<text x="282.3" y="202.9" textLength="17.6" lengthAdjust="spacingAndGlyphs">T = 9</text>
<line x1="268" y1="211.2" x2="281" y2="211.2" stroke="#40a7d8" stroke-width="2.0"/>
<text x="282.3" y="214.2" textLength="22.3" lengthAdjust="spacingAndGlyphs">T = 11</text>
<rect x="405.8" y="11.5" width="41.7" height="68.7" fill="#fff"/>
<line x1="405.8" y1="11.5" x2="405.8" y2="80.2" stroke="#b4b4b4" stroke-width="1.2"/>
<line x1="405.8" y1="11.5" x2="447.5" y2="11.5" stroke="#d6d6d6" stroke-width="1"/>
<line x1="447.5" y1="11.5" x2="447.5" y2="80.2" stroke="#8a8a8a" stroke-width="1"/>
<line x1="405.8" y1="80.2" x2="447.5" y2="80.2" stroke="#8a8a8a" stroke-width="1.2"/>
<line x1="407.5" y1="18.4" x2="419.8" y2="18.4" stroke="#0e2766" stroke-width="2.0" stroke-dasharray="6.6 2.1 3.2 10"/>
<text x="422.6" y="21.4" textLength="17.6" lengthAdjust="spacingAndGlyphs">T = 1</text>
<line x1="407.5" y1="29.7" x2="419.8" y2="29.7" stroke="#9e2616" stroke-width="2.0" stroke-dasharray="6.6 2.1 3.2 10"/>
<text x="422.6" y="32.7" textLength="17.6" lengthAdjust="spacingAndGlyphs">T = 3</text>
<line x1="407.5" y1="41" x2="419.8" y2="41" stroke="#dda124" stroke-width="2.0" stroke-dasharray="6.6 2.1 3.2 10"/>
<text x="422.6" y="44" textLength="17.6" lengthAdjust="spacingAndGlyphs">T = 5</text>
<line x1="407.5" y1="52.3" x2="419.8" y2="52.3" stroke="#33104c" stroke-width="2.0" stroke-dasharray="6.6 2.1 3.2 10"/>
<text x="422.6" y="55.3" textLength="17.6" lengthAdjust="spacingAndGlyphs">T = 7</text>
<line x1="407.5" y1="63.6" x2="419.8" y2="63.6" stroke="#4e8a1f" stroke-width="2.0" stroke-dasharray="6.6 2.1 3.2 10"/>
<text x="422.6" y="66.6" textLength="17.6" lengthAdjust="spacingAndGlyphs">T = 9</text>
<line x1="407.5" y1="74.9" x2="419.8" y2="74.9" stroke="#40a7d8" stroke-width="2.0" stroke-dasharray="6.6 2.1 3.2 10"/>
<text x="422.6" y="77.9" textLength="22.3" lengthAdjust="spacingAndGlyphs">T = 11</text>
</g>
<g font-family="'Liberation Serif', 'Times New Roman', serif" font-size="16" fill="#111" stroke="#111" stroke-width="0.3">
<text x="158.6" y="288" text-anchor="middle">(a)</text>
<text x="527" y="288" text-anchor="middle">(b)</text>
</g>
</svg>
</body></html>
